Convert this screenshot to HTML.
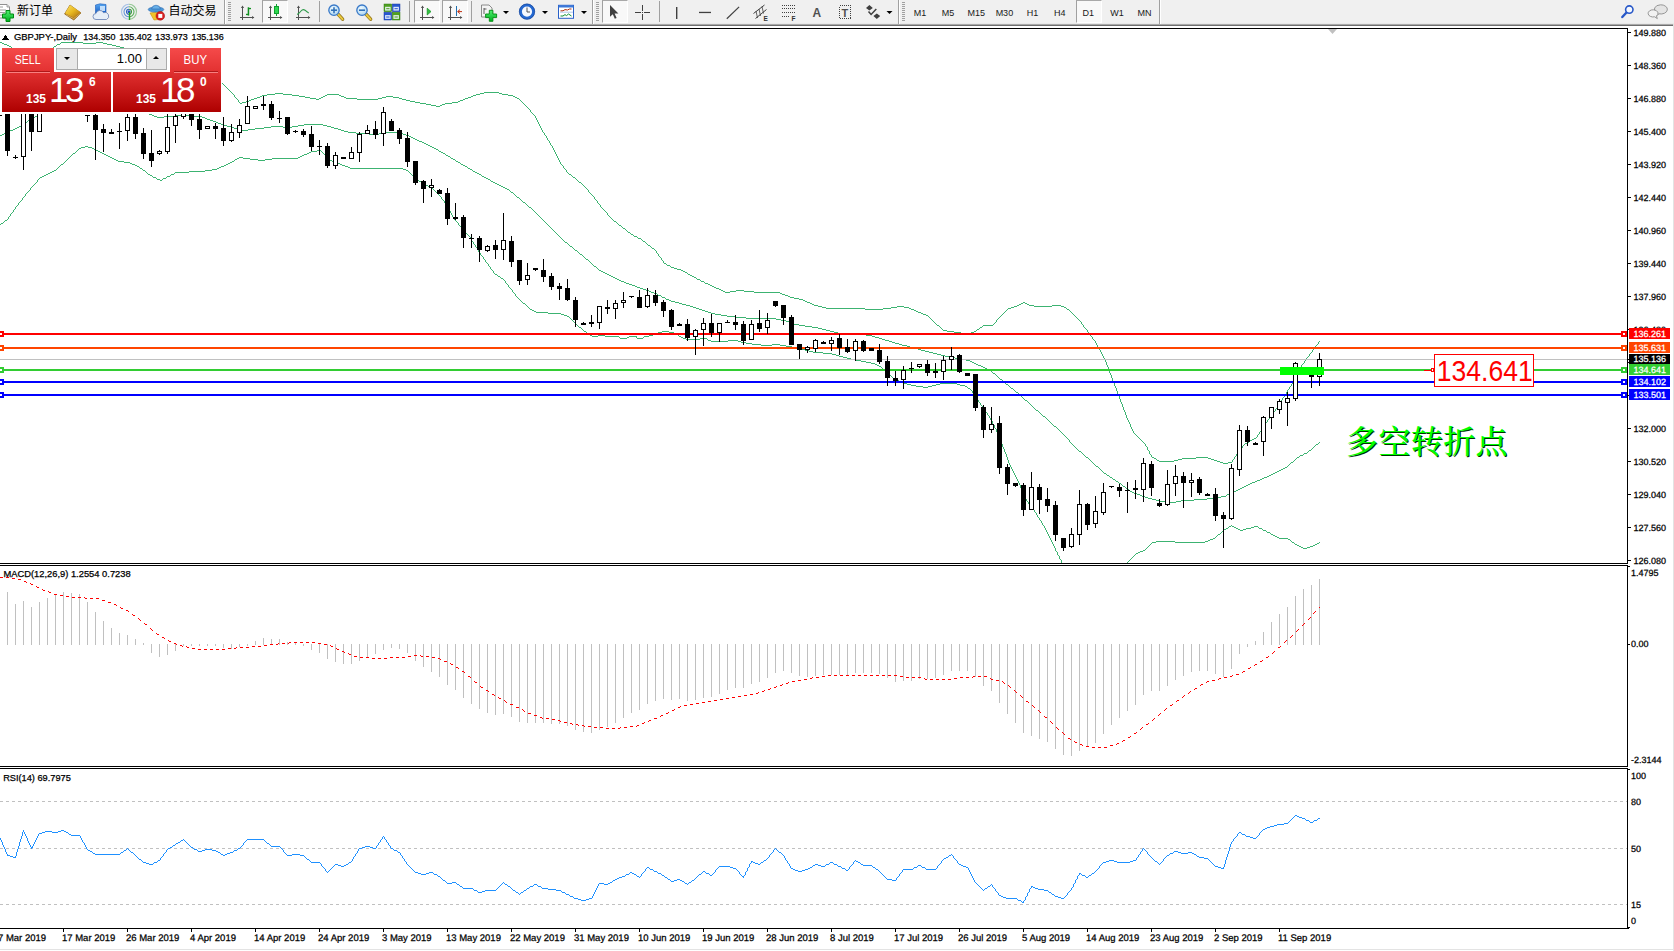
<!DOCTYPE html>
<html><head><meta charset="utf-8"><title>GBPJPY Daily</title>
<style>
html,body{margin:0;padding:0;background:#fff;}
body{width:1674px;height:951px;position:relative;overflow:hidden;font-family:"Liberation Sans","Noto Sans CJK SC",sans-serif;}
#chart{position:absolute;left:0;top:0;}
#chart text{font-family:"Liberation Sans",sans-serif;font-size:9px;fill:#000;stroke:#000;stroke-width:0.25px;}
#chart text.w{fill:#fff;stroke:#fff;}
.abs{position:absolute;white-space:nowrap;}
#tb{position:absolute;left:0;top:0;width:1674px;height:24px;background:#F0F0F0;}
#tbl0{position:absolute;left:0;top:23px;width:1674px;height:1px;background:#E9E9E9;}
#tbl1{position:absolute;left:0;top:24px;width:1674px;height:1px;background:#A9A9A9;}
#tbl2{position:absolute;left:0;top:25px;width:1674px;height:1px;background:#6E6E6E;}
#tbl3{position:absolute;left:0;top:26px;width:1674px;height:2px;background:#FFFFFF;}
.tbt{position:absolute;font-size:12px;line-height:14px;color:#000;top:4px;}
.tf{position:absolute;top:6.5px;font-size:9px;line-height:12px;color:#1a1a1a;text-align:center;width:28px;}
.sep{position:absolute;top:1px;width:1px;height:21px;background:#A0A0A0;}
.sep2{position:absolute;top:0;width:1px;height:24px;background:#A0A0A0;}
.grip{position:absolute;top:2px;width:3px;height:20px;background:repeating-linear-gradient(to bottom,#A0A0A0 0,#A0A0A0 1px,#F0F0F0 1px,#F0F0F0 2px);}
.pr{position:absolute;top:0;height:23px;background:#F8F8F8;border-top:1px solid #A8A8A8;border-left:1px solid #A0A0A0;border-right:1px solid #fff;border-bottom:1px solid #fff;box-sizing:border-box;}
#oc{position:absolute;left:2px;top:48px;width:219px;height:64px;}
.red{position:absolute;background:linear-gradient(to bottom,#F24646 0%,#D62020 45%,#B00000 100%);}
.ocbtn{position:absolute;color:#fff;font-size:12px;text-align:center;line-height:14px;}
#big{position:absolute;left:1435px;top:355px;width:98px;height:31px;color:#FF0000;font-size:30px;line-height:31px;text-align:center;white-space:nowrap;}
#big span{display:inline-block;transform-origin:50% 50%;transform:translateX(-4.5px) scaleX(0.885);}
#cn{position:absolute;left:1346px;top:417px;font-family:"Noto Serif CJK SC","Noto Sans CJK SC",serif;font-size:32px;line-height:44px;color:#00FF00;font-weight:500;text-shadow:1px 1px 0 #003000;white-space:nowrap;letter-spacing:0.4px;}
</style></head><body>
<div id="tb"></div><div id="tbl0"></div><div id="tbl1"></div><div id="tbl2"></div><div id="tbl3"></div>
<div class="pr" style="left:262px;width:26px;"></div><div class="pr" style="left:414px;width:26px;"></div><div class="pr" style="left:442px;width:26px;"></div><div class="pr" style="left:602px;width:26px;"></div><div class="pr" style="left:1076px;width:26px;"></div>
<div class="sep" style="left:319px"></div><div class="sep" style="left:409px"></div><div class="sep" style="left:471px"></div><div class="sep" style="left:659px"></div><div class="sep2" style="left:224px"></div><div class="sep2" style="left:225px;background:#fff"></div><div class="sep2" style="left:592px"></div><div class="sep2" style="left:593px;background:#fff"></div><div class="sep2" style="left:898px"></div><div class="sep2" style="left:899px;background:#fff"></div><div class="sep2" style="left:1159px"></div><div class="sep2" style="left:1160px;background:#fff"></div><div class="grip" style="left:228px"></div><div class="grip" style="left:596px"></div><div class="grip" style="left:902px"></div>
<div class="tbt" style="left:17px;">新订单</div><div class="tbt" style="left:168.6px;">自动交易</div>
<div class="tf" style="left:906px;">M1</div><div class="tf" style="left:934px;">M5</div><div class="tf" style="left:962.3px;">M15</div><div class="tf" style="left:990.4px;">M30</div><div class="tf" style="left:1018.5px;">H1</div><div class="tf" style="left:1045.8px;">H4</div><div class="tf" style="left:1074.2px;">D1</div><div class="tf" style="left:1103px;">W1</div><div class="tf" style="left:1130.4px;">MN</div>
<svg id="tbi" width="1674" height="24" viewBox="0 0 1674 24" style="position:absolute;left:0;top:0;">
<defs>
<linearGradient id="gold" x1="0" y1="0" x2="1" y2="1"><stop offset="0" stop-color="#FBE36A"/><stop offset="0.5" stop-color="#E8B820"/><stop offset="1" stop-color="#A86A10"/></linearGradient>
<linearGradient id="grn" x1="0" y1="0" x2="0" y2="1"><stop offset="0" stop-color="#50F070"/><stop offset="1" stop-color="#00B020"/></linearGradient>
<linearGradient id="blu" x1="0" y1="0" x2="0" y2="1"><stop offset="0" stop-color="#58A8F0"/><stop offset="1" stop-color="#1860C8"/></linearGradient>
<radialGradient id="lens" cx="0.4" cy="0.35" r="0.7"><stop offset="0" stop-color="#F0FAFF"/><stop offset="1" stop-color="#A8D4F0"/></radialGradient>
</defs>
<path d="M-3 4.5 H7 L9.5 7 V18 H-3 Z" fill="#fff" stroke="#909090" stroke-width="1"/><path d="M7 4.5 V7 H9.5" fill="#E0E0E0" stroke="#909090" stroke-width="0.8"/><path d="M-1 7 H3 M-1 10 H6 M-1 12.5 H5 M-1 15 H3" stroke="#A0A0A0" stroke-width="1"/><path d="M6 10.5 h4 v3.5 h3.5 v4 h-3.5 v3.5 h-4 v-3.5 h-3.5 v-4 h3.5 z" fill="url(#grn)" stroke="#008A10" stroke-width="1"/>
<path d="M70 5 L81 13 L73.8 20 L64.6 14 Z" fill="#B07818" stroke="#8A5A0C" stroke-width="0.7"/><path d="M70 5 L80.6 12.2 L73.6 17.6 L65 13.2 Z" fill="url(#gold)"/><path d="M66 14.6 L73.7 18.6 L80.4 13.4" fill="none" stroke="#F0D890" stroke-width="0.7" opacity="0.8"/>
<path d="M95.5 5 L100 3.8 L106 4.5 V13 H95.5 Z" fill="url(#blu)" stroke="#1858B8" stroke-width="0.6"/><rect x="100" y="6" width="5" height="5" fill="#D8ECFF" opacity="0.85"/><path d="M96 19.5 a3 3 0 0 1 0 -6 a4 4 0 0 1 7.5 -0.8 a3.4 3.4 0 0 1 3 6.8 z" fill="#E6EEF8" stroke="#7088B8" stroke-width="0.9"/>
<g fill="none" stroke-width="1.1"><path d="M129 4.3 a7.5 7.5 0 0 0 0 15" stroke="#7AA4E0" opacity="0.6"/><path d="M129 19.3 a7.5 7.5 0 0 0 0 -15" stroke="#70B870" opacity="0.7"/><path d="M129 6.8 a5 5 0 0 0 0 10" stroke="#4A84D4" opacity="0.85"/><path d="M129 16.8 a5 5 0 0 0 0 -10" stroke="#48A848" opacity="0.9"/><path d="M129 9.3 a2.5 2.5 0 0 0 0 5" stroke="#2A60C0"/><path d="M129 14.3 a2.5 2.5 0 0 0 0 -5" stroke="#3A9A3A"/></g><circle cx="129" cy="11.8" r="1.5" fill="#2050C0"/><path d="M129.5 12 V20" stroke="#20A020" stroke-width="1.4"/>
<path d="M150 13 L162 11 L159 19.5 L154 20 Z" fill="#F2C428" stroke="#C89010" stroke-width="0.6"/><ellipse cx="156" cy="9.5" rx="7.8" ry="2.6" fill="#4A98D8" stroke="#2A68B0" stroke-width="0.6"/><path d="M151.5 9 a4.6 4.8 0 0 1 9 0 z" fill="#68B0E8" stroke="#2A68B0" stroke-width="0.6"/><circle cx="160.3" cy="15.9" r="4.3" fill="#D82020" stroke="#A01010" stroke-width="0.5"/><rect x="158.3" y="13.9" width="4" height="4" fill="#fff"/>
<g stroke="#505050" stroke-width="1" fill="none" shape-rendering="crispEdges"><path d="M242.5 6.5 V20 M240 17.5 H253.5"/></g><path d="M242.5 5.6 l-1.6 2.4 h3.2 z M254.4 17.5 l-2.4 -1.6 v3.2 z" fill="#505050"/><rect x="247.7" y="7.3" width="1.5" height="8.3" fill="#109020"/><rect x="248" y="7.9" width="3" height="1.3" fill="#109020"/><rect x="246" y="13.8" width="2.4" height="1.3" fill="#109020"/>
<g stroke="#505050" stroke-width="1" fill="none" shape-rendering="crispEdges"><path d="M270.5 6.5 V20 M268 17.5 H281.5"/></g><path d="M270.5 5.6 l-1.6 2.4 h3.2 z M282.4 17.5 l-2.4 -1.6 v3.2 z" fill="#505050"/><path d="M276.5 4 V16" stroke="#10A030" stroke-width="1" shape-rendering="crispEdges"/><rect x="274.5" y="6.5" width="4" height="7" fill="#30D850" stroke="#10A030" stroke-width="1" shape-rendering="crispEdges"/>
<g stroke="#505050" stroke-width="1" fill="none" shape-rendering="crispEdges"><path d="M298.5 6.5 V20 M296 17.5 H309.5"/></g><path d="M298.5 5.6 l-1.6 2.4 h3.2 z M310.4 17.5 l-2.4 -1.6 v3.2 z" fill="#505050"/><path d="M297.2 14.5 Q299.5 13 301 11 Q303 8.6 305 10.2 Q307 12.2 308.8 12.9" stroke="#2E9A4A" stroke-width="1.1" fill="none"/>
<path d="M338 14.2 L342.6 19.2" stroke="#8A6A10" stroke-width="3.4" stroke-linecap="round"/><path d="M338 14.2 L342.6 19.2" stroke="#E8C840" stroke-width="2" stroke-linecap="round"/><circle cx="334" cy="10.2" r="5.2" fill="url(#lens)" stroke="#3878C8" stroke-width="1.3"/><path d="M331 10.2 H337" stroke="#3070B8" stroke-width="1.6"/><path d="M334 7.2 V13.2" stroke="#3070B8" stroke-width="1.6"/><path d="M366 14.2 L370.6 19.2" stroke="#8A6A10" stroke-width="3.4" stroke-linecap="round"/><path d="M366 14.2 L370.6 19.2" stroke="#E8C840" stroke-width="2" stroke-linecap="round"/><circle cx="362" cy="10.2" r="5.2" fill="url(#lens)" stroke="#3878C8" stroke-width="1.3"/><path d="M359 10.2 H365" stroke="#3070B8" stroke-width="1.6"/>
<rect x="384" y="4" width="7.7" height="7.7" fill="#50A020" stroke="#2C7A10" stroke-width="0.5"/><rect x="385.1" y="6.8" width="5.5" height="3.8" fill="#F0F6FF" opacity="0.9"/><rect x="386.2" y="8.2" width="3.3" height="1" fill="#50A020"/><rect x="392.3" y="4" width="7.7" height="7.7" fill="#2858D0" stroke="#1838A0" stroke-width="0.5"/><rect x="393.4" y="6.8" width="5.5" height="3.8" fill="#F0F6FF" opacity="0.9"/><rect x="394.5" y="8.2" width="3.3" height="1" fill="#2858D0"/><rect x="384" y="12.3" width="7.7" height="7.7" fill="#2858D0" stroke="#1838A0" stroke-width="0.5"/><rect x="385.1" y="15.1" width="5.5" height="3.8" fill="#F0F6FF" opacity="0.9"/><rect x="386.2" y="16.5" width="3.3" height="1" fill="#2858D0"/><rect x="392.3" y="12.3" width="7.7" height="7.7" fill="#50A020" stroke="#2C7A10" stroke-width="0.5"/><rect x="393.4" y="15.1" width="5.5" height="3.8" fill="#F0F6FF" opacity="0.9"/><rect x="394.5" y="16.5" width="3.3" height="1" fill="#50A020"/>
<g stroke="#505050" stroke-width="1" fill="none" shape-rendering="crispEdges"><path d="M422.5 6.5 V20 M420 17.5 H433.5"/></g><path d="M422.5 5.6 l-1.6 2.4 h3.2 z M434.4 17.5 l-2.4 -1.6 v3.2 z" fill="#505050"/><path d="M427.2 8.2 L431 11.6 L427.2 15 Z" fill="#30C040" stroke="#109020" stroke-width="0.7"/>
<g stroke="#505050" stroke-width="1" fill="none" shape-rendering="crispEdges"><path d="M450.5 6.5 V20 M448 17.5 H461.5"/></g><path d="M450.5 5.6 l-1.6 2.4 h3.2 z M462.4 17.5 l-2.4 -1.6 v3.2 z" fill="#505050"/><path d="M456.5 6 V15.5" stroke="#2070B0" stroke-width="1" shape-rendering="crispEdges"/><path d="M462 11.6 H458 M460 9.6 L457.6 11.6 L460 13.6" stroke="#C03010" stroke-width="1" fill="none"/>
<path d="M481.5 5 H489 L492 8 V17 H481.5 Z" fill="#F4F4F4" stroke="#808080" stroke-width="0.9"/><path d="M484 8 v6 M484 9 h2.5" stroke="#404040" stroke-width="0.8" fill="none"/><path d="M489.3 10.3 h3.6 v3.7 h3.7 v3.6 h-3.7 v3.7 h-3.6 v-3.7 h-3.7 v-3.6 h3.7 z" fill="url(#grn)" stroke="#008A10" stroke-width="0.9"/><path d="M503 11 h6 l-3 3 z" fill="#000"/>
<circle cx="527" cy="11.6" r="6.5" fill="#F4F8FF" stroke="#2468D0" stroke-width="2.8"/><circle cx="527" cy="11.6" r="7.7" fill="none" stroke="#103C90" stroke-width="0.6"/><path d="M527 7.5 V12 H530" stroke="#505050" stroke-width="1" fill="none"/><path d="M542 11 h6 l-3 3 z" fill="#000"/>
<rect x="558.5" y="5.3" width="15" height="13" fill="#fff" stroke="#2860C8" stroke-width="1"/><rect x="558.5" y="5.3" width="15" height="2.2" fill="#3C78D8"/><path d="M560 12.2 H573" stroke="#90B0E0" stroke-width="0.7"/><path d="M560.5 10.8 L563 10.8 L565 9.6 L567.5 10 L569.5 9 L571.5 9" stroke="#B03010" stroke-width="1" fill="none"/><path d="M560.5 16 L563 16 L565 14.6 L566.5 15.6 L568.5 14 L571.5 16" stroke="#109030" stroke-width="1" fill="none"/><path d="M581 11 h6 l-3 3 z" fill="#000"/>
<path d="M610 5 L610 16.8 L612.8 14.2 L614.8 18.8 L616.6 18 L614.6 13.6 L618.4 13.4 Z" fill="#404040"/>
<path d="M635 12.5 H641 M644 12.5 H650 M642.5 5 V11 M642.5 14 V20" stroke="#404040" stroke-width="1" shape-rendering="crispEdges"/><rect x="642" y="12" width="1" height="1" fill="#404040"/>
<rect x="676" y="7" width="1.4" height="12" fill="#404040"/><rect x="699" y="11.8" width="12" height="1.3" fill="#404040"/><path d="M726.8 18.8 L739.1 6.9" stroke="#404040" stroke-width="1.2"/>
<g stroke="#404040" stroke-width="1"><path d="M753.5 13.5 L764.5 5 M755.5 18.5 L766.5 9.5"/><path d="M756 11 l1.5 7 M759 9 l1.5 7 M762 6.5 l1.5 7" stroke-width="0.8"/></g><text x="763.6" y="20.6" font-family="Liberation Sans,sans-serif" font-size="6.5" font-weight="bold" fill="#303030">E</text>
<g stroke="#404040" stroke-width="1" stroke-dasharray="1,1" shape-rendering="crispEdges"><path d="M782 5.5 H795 M782 8.5 H795 M782 12.5 H795 M782 16.5 H790"/></g><text x="791.6" y="20.6" font-family="Liberation Sans,sans-serif" font-size="6.5" font-weight="bold" fill="#303030">F</text>
<text x="812.6" y="16.8" font-family="Liberation Sans,sans-serif" font-size="12" font-weight="bold" fill="#505050">A</text>
<rect x="839.5" y="5.5" width="11" height="13" fill="none" stroke="#404040" stroke-width="1" stroke-dasharray="1,1" shape-rendering="crispEdges"/><text x="841.4" y="16.6" font-family="Liberation Sans,sans-serif" font-size="11" font-weight="bold" fill="#505050">T</text>
<path d="M869.4 5 l3.4 3 l-3.4 2.6 l-3.4 -2.6 z M876.8 19 l-3.4 -3 l3.4 -2.4 l3.4 2.4 z" fill="#404040"/><path d="M868.5 11.5 l2.6 3 l5.2 -5.6" stroke="#404040" stroke-width="1.5" fill="none"/><path d="M886.5 11 h6 l-3 3 z" fill="#000"/>
<path d="M1622.3 17 L1626.5 12.5" stroke="#2858C8" stroke-width="2.4" stroke-linecap="round"/><circle cx="1629.3" cy="9.6" r="3.7" fill="#F4F8FF" stroke="#2858C8" stroke-width="1.6"/>
<path d="M1660.5 4.8 a6.5 4.6 0 1 1 -1.5 9 l-3 2.2 l0.8 -3 a6.5 4.6 0 0 1 3.7 -8.2 z" fill="#E4E4E4" stroke="#8C8C8C" stroke-width="0.9"/><path d="M1653.5 9.8 a5 3.6 0 1 0 1.2 7 l2.6 1.8 l-0.8 -2.6 a5 3.6 0 0 0 -3 -6.2 z" fill="#F2F2F2" stroke="#8C8C8C" stroke-width="0.9"/>
</svg>
<svg id="chart" width="1674" height="951" viewBox="0 0 1674 951" shape-rendering="crispEdges">
<defs><clipPath id="cm"><rect x="0" y="29" width="1627" height="534"/></clipPath></defs>
<rect x="0" y="28" width="1628" height="1" fill="#000"/>
<rect x="1627" y="28" width="1" height="901" fill="#000"/>
<rect x="0" y="563" width="1628" height="1" fill="#000"/>
<rect x="0" y="565" width="1628" height="1" fill="#000"/>
<rect x="0" y="766" width="1628" height="1" fill="#000"/>
<rect x="0" y="768" width="1628" height="1" fill="#000"/>
<rect x="0" y="928" width="1629" height="1" fill="#000"/>
<rect x="0" y="564" width="1628" height="1" fill="#fff"/>
<rect x="0" y="767" width="1628" height="1" fill="#fff"/>
<rect x="1628" y="32" width="3" height="1" fill="#000"/>
<rect x="1628" y="65" width="3" height="1" fill="#000"/>
<rect x="1628" y="98" width="3" height="1" fill="#000"/>
<rect x="1628" y="131" width="3" height="1" fill="#000"/>
<rect x="1628" y="164" width="3" height="1" fill="#000"/>
<rect x="1628" y="197" width="3" height="1" fill="#000"/>
<rect x="1628" y="230" width="3" height="1" fill="#000"/>
<rect x="1628" y="263" width="3" height="1" fill="#000"/>
<rect x="1628" y="296" width="3" height="1" fill="#000"/>
<rect x="1628" y="329" width="3" height="1" fill="#000"/>
<rect x="1628" y="362" width="3" height="1" fill="#000"/>
<rect x="1628" y="395" width="3" height="1" fill="#000"/>
<rect x="1628" y="428" width="3" height="1" fill="#000"/>
<rect x="1628" y="461" width="3" height="1" fill="#000"/>
<rect x="1628" y="494" width="3" height="1" fill="#000"/>
<rect x="1628" y="527" width="3" height="1" fill="#000"/>
<rect x="1628" y="560" width="3" height="1" fill="#000"/>
<rect x="1628" y="566" width="2" height="1" fill="#000"/>
<rect x="1628" y="644" width="2" height="1" fill="#000"/>
<rect x="1628" y="769" width="2" height="1" fill="#000"/>
<rect x="1628" y="927" width="2" height="1" fill="#000"/>
<rect x="-1" y="929" width="1" height="3" fill="#000"/>
<rect x="63" y="929" width="1" height="3" fill="#000"/>
<rect x="127" y="929" width="1" height="3" fill="#000"/>
<rect x="191" y="929" width="1" height="3" fill="#000"/>
<rect x="255" y="929" width="1" height="3" fill="#000"/>
<rect x="319" y="929" width="1" height="3" fill="#000"/>
<rect x="383" y="929" width="1" height="3" fill="#000"/>
<rect x="447" y="929" width="1" height="3" fill="#000"/>
<rect x="511" y="929" width="1" height="3" fill="#000"/>
<rect x="575" y="929" width="1" height="3" fill="#000"/>
<rect x="639" y="929" width="1" height="3" fill="#000"/>
<rect x="703" y="929" width="1" height="3" fill="#000"/>
<rect x="767" y="929" width="1" height="3" fill="#000"/>
<rect x="831" y="929" width="1" height="3" fill="#000"/>
<rect x="895" y="929" width="1" height="3" fill="#000"/>
<rect x="959" y="929" width="1" height="3" fill="#000"/>
<rect x="1023" y="929" width="1" height="3" fill="#000"/>
<rect x="1087" y="929" width="1" height="3" fill="#000"/>
<rect x="1151" y="929" width="1" height="3" fill="#000"/>
<rect x="1215" y="929" width="1" height="3" fill="#000"/>
<rect x="1279" y="929" width="1" height="3" fill="#000"/>
<path fill="#3CB371" d="M0 42h2v1h-2zM61 42h22v1h-22zM96 42h7v1h-7zM2 43h2v1h-2zM60 43h1v1h-1zM83 43h13v1h-13zM103 43h4v1h-4zM4 44h3v1h-3zM57 44h3v1h-3zM107 44h5v1h-5zM7 45h2v1h-2zM56 45h1v1h-1zM112 45h4v1h-4zM9 46h2v1h-2zM54 46h2v1h-2zM116 46h4v1h-4zM11 47h1v1h-1zM53 47h1v1h-1zM120 47h4v1h-4zM12 48h1v1h-1zM51 48h2v1h-2zM124 48h3v1h-3zM13 49h1v1h-1zM50 49h1v1h-1zM127 49h4v1h-4zM14 50h1v1h-1zM48 50h2v1h-2zM131 50h4v1h-4zM15 51h1v1h-1zM47 51h1v1h-1zM135 51h3v1h-3zM16 52h31v1h-31zM138 52h4v1h-4zM142 53h3v1h-3zM145 54h4v1h-4zM149 55h3v1h-3zM152 56h3v1h-3zM155 57h3v1h-3zM158 58h3v1h-3zM161 59h3v1h-3zM164 60h3v1h-3zM167 61h3v1h-3zM170 62h3v1h-3zM173 63h3v1h-3zM176 64h2v1h-2zM178 65h3v1h-3zM181 66h3v1h-3zM184 67h3v1h-3zM187 68h3v1h-3zM190 69h3v1h-3zM193 70h3v1h-3zM196 71h3v1h-3zM199 72h3v1h-3zM202 73h2v1h-2zM204 74h2v1h-2zM206 75h2v1h-2zM208 76h2v1h-2zM210 77h2v1h-2zM212 78h2v1h-2zM214 79h2v1h-2zM216 80h2v1h-2zM218 81h2v1h-2zM220 82h2v1h-2zM222 83h1v1h-1zM223 84h1v1h-1zM224 85h1v1h-1zM225 86h1v1h-1zM226 87h1v1h-1zM227 88h1v1h-1zM228 89h1v1h-1zM229 90h1v1h-1zM230 91h1v1h-1zM231 92h1v1h-1zM484 92h15v1h-15zM232 93h1v1h-1zM275 93h8v1h-8zM480 93h4v1h-4zM499 93h3v1h-3zM233 94h1v1h-1zM267 94h8v1h-8zM283 94h9v1h-9zM327 94h12v1h-12zM476 94h4v1h-4zM502 94h6v1h-6zM234 95h1v2h-1zM262 95h5v1h-5zM292 95h7v1h-7zM325 95h2v1h-2zM339 95h2v1h-2zM473 95h3v1h-3zM508 95h5v1h-5zM260 96h2v1h-2zM299 96h6v1h-6zM323 96h2v1h-2zM341 96h3v1h-3zM386 96h7v1h-7zM471 96h2v1h-2zM513 96h2v1h-2zM235 97h1v1h-1zM257 97h3v1h-3zM305 97h5v1h-5zM321 97h2v1h-2zM344 97h2v1h-2zM382 97h4v1h-4zM393 97h6v1h-6zM468 97h3v1h-3zM515 97h2v1h-2zM236 98h1v1h-1zM254 98h3v1h-3zM310 98h6v1h-6zM319 98h2v1h-2zM346 98h11v1h-11zM378 98h4v1h-4zM399 98h3v1h-3zM465 98h3v1h-3zM517 98h2v1h-2zM237 99h1v1h-1zM251 99h3v1h-3zM316 99h3v1h-3zM357 99h21v1h-21zM402 99h4v1h-4zM463 99h2v1h-2zM519 99h1v1h-1zM238 100h1v2h-1zM249 100h2v1h-2zM406 100h4v1h-4zM460 100h3v1h-3zM520 100h1v1h-1zM246 101h3v1h-3zM410 101h5v1h-5zM458 101h2v1h-2zM521 101h1v1h-1zM239 102h1v1h-1zM242 102h4v1h-4zM415 102h5v1h-5zM452 102h6v1h-6zM522 102h1v1h-1zM240 103h2v1h-2zM420 103h6v1h-6zM445 103h7v1h-7zM523 103h1v1h-1zM426 104h5v1h-5zM442 104h3v1h-3zM524 104h1v1h-1zM431 105h5v1h-5zM440 105h2v1h-2zM525 105h1v1h-1zM436 106h4v1h-4zM526 106h1v1h-1zM527 107h1v1h-1zM528 108h1v1h-1zM529 109h1v1h-1zM530 110h1v2h-1zM531 112h1v1h-1zM532 113h1v1h-1zM533 114h1v1h-1zM534 115h1v1h-1zM535 116h1v2h-1zM536 118h1v2h-1zM537 120h1v2h-1zM538 122h1v2h-1zM539 124h1v2h-1zM540 126h1v2h-1zM541 128h1v2h-1zM542 130h1v2h-1zM543 132h1v1h-1zM544 133h1v2h-1zM545 135h1v1h-1zM546 136h1v2h-1zM547 138h1v2h-1zM548 140h1v1h-1zM549 141h1v2h-1zM550 143h1v2h-1zM551 145h1v1h-1zM552 146h1v2h-1zM553 148h1v2h-1zM554 150h1v2h-1zM555 152h1v2h-1zM556 154h1v2h-1zM557 156h1v2h-1zM558 158h1v2h-1zM559 160h1v2h-1zM560 162h1v2h-1zM561 164h1v1h-1zM562 165h1v1h-1zM563 166h1v2h-1zM564 168h1v1h-1zM565 169h1v1h-1zM566 170h1v2h-1zM567 172h1v1h-1zM568 173h1v1h-1zM569 174h2v1h-2zM571 175h1v1h-1zM572 176h1v1h-1zM573 177h2v1h-2zM575 178h1v1h-1zM576 179h1v1h-1zM577 180h1v1h-1zM578 181h1v1h-1zM579 182h2v1h-2zM581 183h1v1h-1zM582 184h1v1h-1zM583 185h1v1h-1zM584 186h1v1h-1zM585 187h1v1h-1zM586 188h1v1h-1zM587 189h1v1h-1zM588 190h1v2h-1zM589 192h1v1h-1zM590 193h1v1h-1zM591 194h1v1h-1zM592 195h1v1h-1zM593 196h1v1h-1zM594 197h1v2h-1zM595 199h1v1h-1zM596 200h1v1h-1zM597 201h1v2h-1zM598 203h1v1h-1zM599 204h1v1h-1zM600 205h1v2h-1zM601 207h1v1h-1zM602 208h1v1h-1zM603 209h1v1h-1zM604 210h1v1h-1zM605 211h1v1h-1zM606 212h1v1h-1zM607 213h1v2h-1zM608 215h1v1h-1zM609 216h1v1h-1zM610 217h1v1h-1zM611 218h1v1h-1zM612 219h1v1h-1zM613 220h1v1h-1zM614 221h2v1h-2zM616 222h1v1h-1zM617 223h1v1h-1zM618 224h1v1h-1zM619 225h2v1h-2zM621 226h1v1h-1zM622 227h1v1h-1zM623 228h2v1h-2zM625 229h1v1h-1zM626 230h1v1h-1zM627 231h1v1h-1zM628 232h2v1h-2zM630 233h1v1h-1zM631 234h2v1h-2zM633 235h1v1h-1zM634 236h3v1h-3zM637 237h1v1h-1zM638 238h3v1h-3zM641 239h1v1h-1zM642 240h1v1h-1zM643 241h2v1h-2zM645 242h1v1h-1zM646 243h1v1h-1zM647 244h1v1h-1zM648 245h2v1h-2zM650 246h1v1h-1zM651 247h1v1h-1zM652 248h2v1h-2zM654 249h1v1h-1zM655 250h1v1h-1zM656 251h1v2h-1zM657 253h1v1h-1zM658 254h1v2h-1zM659 256h1v1h-1zM660 257h1v1h-1zM661 258h1v2h-1zM662 260h1v1h-1zM663 261h1v2h-1zM664 263h2v1h-2zM666 264h1v1h-1zM667 265h3v1h-3zM670 266h1v1h-1zM671 267h3v1h-3zM674 268h3v1h-3zM677 269h4v1h-4zM681 270h2v1h-2zM683 271h2v1h-2zM685 272h2v1h-2zM687 273h1v1h-1zM688 274h2v1h-2zM690 275h2v1h-2zM692 276h2v1h-2zM694 277h2v1h-2zM696 278h1v1h-1zM697 279h3v1h-3zM700 280h1v1h-1zM701 281h3v1h-3zM704 282h1v1h-1zM705 283h3v1h-3zM708 284h2v1h-2zM710 285h2v1h-2zM712 286h2v1h-2zM714 287h2v1h-2zM716 288h3v1h-3zM719 289h2v1h-2zM721 290h2v1h-2zM736 290h8v1h-8zM723 291h2v1h-2zM730 291h6v1h-6zM744 291h10v1h-10zM725 292h5v1h-5zM754 292h26v1h-26zM780 293h2v1h-2zM782 294h3v1h-3zM785 295h3v1h-3zM788 296h2v1h-2zM790 297h4v1h-4zM794 298h5v1h-5zM799 299h4v1h-4zM803 300h2v1h-2zM805 301h2v1h-2zM807 302h3v1h-3zM1023 302h2v1h-2zM810 303h2v1h-2zM1021 303h2v1h-2zM1025 303h2v1h-2zM812 304h2v1h-2zM1019 304h2v1h-2zM1027 304h2v1h-2zM814 305h4v1h-4zM1017 305h2v1h-2zM1029 305h5v1h-5zM1052 305h9v1h-9zM818 306h4v1h-4zM897 306h7v1h-7zM1014 306h3v1h-3zM1034 306h18v1h-18zM1061 306h3v1h-3zM822 307h4v1h-4zM891 307h6v1h-6zM904 307h5v1h-5zM1011 307h3v1h-3zM1064 307h2v1h-2zM826 308h39v1h-39zM883 308h8v1h-8zM909 308h2v1h-2zM1008 308h3v1h-3zM1066 308h1v1h-1zM865 309h18v1h-18zM911 309h3v1h-3zM1007 309h1v1h-1zM1067 309h2v1h-2zM914 310h2v1h-2zM1006 310h1v1h-1zM1069 310h1v1h-1zM916 311h2v1h-2zM1005 311h1v1h-1zM1070 311h1v1h-1zM918 312h3v1h-3zM1004 312h1v1h-1zM1071 312h1v1h-1zM921 313h2v1h-2zM1003 313h1v1h-1zM1072 313h1v1h-1zM923 314h3v1h-3zM1002 314h1v1h-1zM1073 314h1v1h-1zM926 315h2v1h-2zM1001 315h1v1h-1zM1074 315h1v1h-1zM928 316h1v1h-1zM1000 316h1v1h-1zM1075 316h1v1h-1zM929 317h1v1h-1zM999 317h1v1h-1zM1076 317h1v1h-1zM930 318h1v1h-1zM998 318h1v1h-1zM1077 318h1v1h-1zM931 319h1v1h-1zM997 319h1v1h-1zM1078 319h1v1h-1zM932 320h1v1h-1zM996 320h1v2h-1zM1079 320h1v1h-1zM933 321h1v1h-1zM1080 321h1v1h-1zM934 322h1v1h-1zM995 322h1v1h-1zM1081 322h1v2h-1zM935 323h1v1h-1zM994 323h1v1h-1zM936 324h1v1h-1zM993 324h1v1h-1zM1082 324h1v1h-1zM937 325h2v1h-2zM983 325h10v1h-10zM1083 325h1v2h-1zM939 326h1v1h-1zM982 326h1v1h-1zM940 327h1v1h-1zM980 327h2v1h-2zM1084 327h1v1h-1zM941 328h1v1h-1zM979 328h1v1h-1zM1085 328h1v1h-1zM942 329h1v1h-1zM977 329h2v1h-2zM1086 329h1v1h-1zM943 330h4v1h-4zM976 330h1v1h-1zM1087 330h1v2h-1zM947 331h7v1h-7zM974 331h2v1h-2zM954 332h7v1h-7zM971 332h3v1h-3zM1088 332h1v1h-1zM961 333h10v1h-10zM1089 333h1v1h-1zM1090 334h1v2h-1zM1091 336h1v1h-1zM1092 337h1v2h-1zM1093 339h1v1h-1zM1094 340h1v1h-1zM1095 341h1v2h-1zM1319 341h1v1h-1zM1318 342h1v2h-1zM1096 343h1v2h-1zM1317 344h1v1h-1zM1097 345h1v2h-1zM1316 345h1v1h-1zM1315 346h1v1h-1zM1098 347h1v1h-1zM1314 347h1v2h-1zM1099 348h1v2h-1zM1313 349h1v1h-1zM1100 350h1v2h-1zM1312 350h1v2h-1zM1101 352h1v2h-1zM1311 352h1v1h-1zM1310 353h1v1h-1zM1102 354h1v2h-1zM1309 354h1v2h-1zM1103 356h1v2h-1zM1308 356h1v1h-1zM1307 357h1v1h-1zM1104 358h1v2h-1zM1306 358h1v2h-1zM1105 360h1v2h-1zM1305 360h1v1h-1zM1304 361h1v2h-1zM1106 362h1v3h-1zM1303 363h1v1h-1zM1302 364h1v1h-1zM1107 365h1v2h-1zM1301 365h1v2h-1zM1108 367h1v3h-1zM1300 367h1v1h-1zM1299 368h1v2h-1zM1109 370h1v3h-1zM1298 370h1v2h-1zM1297 372h1v2h-1zM1110 373h1v2h-1zM1296 374h1v2h-1zM1111 375h1v3h-1zM1295 376h1v2h-1zM1112 378h1v3h-1zM1294 378h1v2h-1zM1293 380h1v2h-1zM1113 381h1v2h-1zM1292 382h1v2h-1zM1114 383h1v3h-1zM1291 384h1v2h-1zM1115 386h1v2h-1zM1290 386h1v1h-1zM1289 387h1v2h-1zM1116 388h1v3h-1zM1288 389h1v1h-1zM1287 390h1v2h-1zM1117 391h1v3h-1zM1286 392h1v2h-1zM1118 394h1v2h-1zM1285 394h1v1h-1zM1284 395h1v2h-1zM1119 396h1v3h-1zM1283 397h1v1h-1zM1282 398h1v2h-1zM1120 399h1v3h-1zM1281 400h1v1h-1zM1280 401h1v2h-1zM1121 402h1v2h-1zM1279 403h1v1h-1zM1122 404h1v3h-1zM1278 404h1v2h-1zM1277 406h1v2h-1zM1123 407h1v3h-1zM1276 408h1v1h-1zM1275 409h1v2h-1zM1124 410h1v2h-1zM1274 411h1v1h-1zM1125 412h1v3h-1zM1273 412h1v2h-1zM1272 414h1v1h-1zM1126 415h1v3h-1zM1271 415h1v1h-1zM1270 416h1v2h-1zM1127 418h1v2h-1zM1269 418h1v1h-1zM1268 419h1v1h-1zM1128 420h1v2h-1zM1267 420h1v2h-1zM1129 422h1v2h-1zM1266 422h1v1h-1zM1265 423h1v2h-1zM1130 424h1v3h-1zM1264 425h1v1h-1zM1263 426h1v2h-1zM1131 427h1v2h-1zM1262 428h1v1h-1zM1132 429h1v2h-1zM1261 429h1v2h-1zM1133 431h1v2h-1zM1260 431h1v1h-1zM1259 432h1v2h-1zM1134 433h1v1h-1zM1135 434h1v1h-1zM1258 434h1v1h-1zM1136 435h1v1h-1zM1257 435h1v2h-1zM1137 436h1v1h-1zM1138 437h1v1h-1zM1256 437h1v1h-1zM1139 438h1v1h-1zM1254 438h2v1h-2zM1140 439h1v1h-1zM1252 439h2v1h-2zM1141 440h1v1h-1zM1250 440h2v1h-2zM1142 441h1v1h-1zM1249 441h1v1h-1zM1143 442h1v1h-1zM1247 442h2v1h-2zM1144 443h1v1h-1zM1245 443h2v1h-2zM1145 444h1v2h-1zM1244 444h1v1h-1zM1243 445h1v1h-1zM1146 446h1v1h-1zM1242 446h1v2h-1zM1147 447h1v3h-1zM1241 448h1v1h-1zM1240 449h1v1h-1zM1148 450h1v1h-1zM1239 450h1v2h-1zM1149 451h1v3h-1zM1238 452h1v1h-1zM1237 453h1v1h-1zM1150 454h1v1h-1zM1236 454h1v2h-1zM1151 455h1v2h-1zM1235 456h1v1h-1zM1152 457h2v1h-2zM1196 457h12v1h-12zM1234 457h1v2h-1zM1154 458h2v1h-2zM1182 458h14v1h-14zM1208 458h3v1h-3zM1156 459h1v1h-1zM1178 459h4v1h-4zM1211 459h3v1h-3zM1233 459h1v1h-1zM1157 460h2v1h-2zM1174 460h4v1h-4zM1214 460h3v1h-3zM1232 460h1v2h-1zM1159 461h15v1h-15zM1217 461h3v1h-3zM1220 462h3v1h-3zM1228 462h4v1h-4zM1223 463h5v1h-5z"/>
<path fill="#3CB371" d="M97 100h6v1h-6zM88 101h9v1h-9zM103 101h5v1h-5zM81 102h7v1h-7zM108 102h5v1h-5zM72 103h9v1h-9zM113 103h5v1h-5zM65 104h7v1h-7zM118 104h5v1h-5zM59 105h6v1h-6zM123 105h5v1h-5zM57 106h2v1h-2zM128 106h4v1h-4zM55 107h2v1h-2zM132 107h2v1h-2zM52 108h3v1h-3zM134 108h3v1h-3zM50 109h2v1h-2zM137 109h2v1h-2zM48 110h2v1h-2zM139 110h3v1h-3zM46 111h2v1h-2zM142 111h2v1h-2zM43 112h3v1h-3zM144 112h3v1h-3zM41 113h2v1h-2zM147 113h2v1h-2zM39 114h2v1h-2zM149 114h3v1h-3zM37 115h2v1h-2zM152 115h2v1h-2zM175 115h16v1h-16zM35 116h2v1h-2zM154 116h3v1h-3zM164 116h11v1h-11zM191 116h11v1h-11zM33 117h2v1h-2zM157 117h7v1h-7zM202 117h3v1h-3zM32 118h1v1h-1zM205 118h2v1h-2zM30 119h2v1h-2zM207 119h3v1h-3zM28 120h2v1h-2zM210 120h3v1h-3zM27 121h1v1h-1zM213 121h3v1h-3zM25 122h2v1h-2zM216 122h2v1h-2zM24 123h1v1h-1zM218 123h3v1h-3zM23 124h1v1h-1zM221 124h3v1h-3zM304 124h19v1h-19zM21 125h2v1h-2zM224 125h3v1h-3zM298 125h6v1h-6zM323 125h4v1h-4zM19 126h2v1h-2zM227 126h4v1h-4zM271 126h12v1h-12zM292 126h6v1h-6zM327 126h4v1h-4zM17 127h2v1h-2zM231 127h3v1h-3zM264 127h7v1h-7zM283 127h9v1h-9zM331 127h3v1h-3zM15 128h2v1h-2zM234 128h4v1h-4zM255 128h9v1h-9zM334 128h4v1h-4zM13 129h2v1h-2zM238 129h4v1h-4zM248 129h7v1h-7zM338 129h3v1h-3zM10 130h3v1h-3zM242 130h6v1h-6zM341 130h3v1h-3zM8 131h2v1h-2zM344 131h4v1h-4zM6 132h2v1h-2zM348 132h8v1h-8zM384 132h16v1h-16zM4 133h2v1h-2zM356 133h13v1h-13zM379 133h5v1h-5zM400 133h3v1h-3zM2 134h2v1h-2zM369 134h10v1h-10zM403 134h3v1h-3zM0 135h2v1h-2zM406 135h3v1h-3zM409 136h2v1h-2zM411 137h2v1h-2zM413 138h2v1h-2zM415 139h2v1h-2zM417 140h2v1h-2zM419 141h3v1h-3zM422 142h2v1h-2zM424 143h2v1h-2zM426 144h2v1h-2zM428 145h2v1h-2zM430 146h2v1h-2zM432 147h2v1h-2zM434 148h2v1h-2zM436 149h2v1h-2zM438 150h1v1h-1zM439 151h2v1h-2zM441 152h2v1h-2zM443 153h2v1h-2zM445 154h1v1h-1zM446 155h2v1h-2zM448 156h2v1h-2zM450 157h1v1h-1zM451 158h2v1h-2zM453 159h2v1h-2zM455 160h1v1h-1zM456 161h2v1h-2zM458 162h2v1h-2zM460 163h1v1h-1zM461 164h2v1h-2zM463 165h2v1h-2zM465 166h2v1h-2zM467 167h1v1h-1zM468 168h2v1h-2zM470 169h2v1h-2zM472 170h1v1h-1zM473 171h2v1h-2zM475 172h2v1h-2zM477 173h2v1h-2zM479 174h2v1h-2zM481 175h1v1h-1zM482 176h2v1h-2zM484 177h2v1h-2zM486 178h2v1h-2zM488 179h2v1h-2zM490 180h1v1h-1zM491 181h2v1h-2zM493 182h2v1h-2zM495 183h2v1h-2zM497 184h2v1h-2zM499 185h2v1h-2zM501 186h2v1h-2zM503 187h2v1h-2zM505 188h2v1h-2zM507 189h2v1h-2zM509 190h1v1h-1zM510 191h1v1h-1zM511 192h2v1h-2zM513 193h1v1h-1zM514 194h1v1h-1zM515 195h1v1h-1zM516 196h1v1h-1zM517 197h2v1h-2zM519 198h1v1h-1zM520 199h1v1h-1zM521 200h1v1h-1zM522 201h1v1h-1zM523 202h2v1h-2zM525 203h1v1h-1zM526 204h1v1h-1zM527 205h1v1h-1zM528 206h1v1h-1zM529 207h2v1h-2zM531 208h1v1h-1zM532 209h1v1h-1zM533 210h1v1h-1zM534 211h1v1h-1zM535 212h1v1h-1zM536 213h1v1h-1zM537 214h1v1h-1zM538 215h1v1h-1zM539 216h1v1h-1zM540 217h1v1h-1zM541 218h1v1h-1zM542 219h1v1h-1zM543 220h1v1h-1zM544 221h1v1h-1zM545 222h1v1h-1zM546 223h1v1h-1zM547 224h1v1h-1zM548 225h1v1h-1zM549 226h1v1h-1zM550 227h1v1h-1zM551 228h1v1h-1zM552 229h1v1h-1zM553 230h1v1h-1zM554 231h1v1h-1zM555 232h1v1h-1zM556 233h1v1h-1zM557 234h1v1h-1zM558 235h1v1h-1zM559 236h1v1h-1zM560 237h1v1h-1zM561 238h1v1h-1zM562 239h1v1h-1zM563 240h1v1h-1zM564 241h1v1h-1zM565 242h2v1h-2zM567 243h1v1h-1zM568 244h1v1h-1zM569 245h1v1h-1zM570 246h2v1h-2zM572 247h1v1h-1zM573 248h1v1h-1zM574 249h1v1h-1zM575 250h2v1h-2zM577 251h1v1h-1zM578 252h1v1h-1zM579 253h1v1h-1zM580 254h2v1h-2zM582 255h1v1h-1zM583 256h1v1h-1zM584 257h1v1h-1zM585 258h1v1h-1zM586 259h2v1h-2zM588 260h1v1h-1zM589 261h1v1h-1zM590 262h1v1h-1zM591 263h1v1h-1zM592 264h1v1h-1zM593 265h1v1h-1zM594 266h2v1h-2zM596 267h1v1h-1zM597 268h1v1h-1zM598 269h1v1h-1zM599 270h2v1h-2zM601 271h2v1h-2zM603 272h2v1h-2zM605 273h2v1h-2zM607 274h2v1h-2zM609 275h2v1h-2zM611 276h2v1h-2zM613 277h2v1h-2zM615 278h2v1h-2zM617 279h2v1h-2zM619 280h2v1h-2zM621 281h3v1h-3zM624 282h2v1h-2zM626 283h3v1h-3zM629 284h3v1h-3zM632 285h3v1h-3zM635 286h2v1h-2zM637 287h3v1h-3zM640 288h3v1h-3zM643 289h3v1h-3zM646 290h3v1h-3zM649 291h2v1h-2zM651 292h3v1h-3zM654 293h3v1h-3zM657 294h1v1h-1zM658 295h3v1h-3zM661 296h1v1h-1zM662 297h3v1h-3zM665 298h1v1h-1zM666 299h3v1h-3zM669 300h2v1h-2zM671 301h4v1h-4zM675 302h4v1h-4zM679 303h3v1h-3zM682 304h4v1h-4zM686 305h4v1h-4zM690 306h3v1h-3zM693 307h3v1h-3zM696 308h3v1h-3zM699 309h3v1h-3zM702 310h3v1h-3zM705 311h3v1h-3zM708 312h3v1h-3zM711 313h4v1h-4zM715 314h6v1h-6zM721 315h6v1h-6zM727 316h8v1h-8zM735 317h11v1h-11zM746 318h30v1h-30zM776 319h5v1h-5zM781 320h5v1h-5zM786 321h3v1h-3zM789 322h2v1h-2zM791 323h3v1h-3zM794 324h5v1h-5zM799 325h6v1h-6zM805 326h7v1h-7zM812 327h6v1h-6zM818 328h4v1h-4zM822 329h4v1h-4zM826 330h4v1h-4zM830 331h4v1h-4zM834 332h4v1h-4zM838 333h18v1h-18zM856 334h10v1h-10zM866 335h6v1h-6zM872 336h3v1h-3zM875 337h4v1h-4zM879 338h3v1h-3zM882 339h3v1h-3zM885 340h4v1h-4zM889 341h3v1h-3zM892 342h3v1h-3zM895 343h4v1h-4zM899 344h3v1h-3zM902 345h5v1h-5zM907 346h3v1h-3zM910 347h4v1h-4zM914 348h4v1h-4zM918 349h3v1h-3zM921 350h4v1h-4zM925 351h4v1h-4zM929 352h4v1h-4zM933 353h4v1h-4zM937 354h4v1h-4zM941 355h4v1h-4zM945 356h5v1h-5zM950 357h5v1h-5zM955 358h6v1h-6zM961 359h5v1h-5zM966 360h4v1h-4zM970 361h2v1h-2zM972 362h2v1h-2zM974 363h2v1h-2zM976 364h2v1h-2zM978 365h3v1h-3zM981 366h2v1h-2zM983 367h2v1h-2zM985 368h2v1h-2zM987 369h2v1h-2zM989 370h2v1h-2zM991 371h1v1h-1zM992 372h1v1h-1zM993 373h2v1h-2zM995 374h1v1h-1zM996 375h1v1h-1zM997 376h1v1h-1zM998 377h1v1h-1zM999 378h1v1h-1zM1000 379h2v1h-2zM1002 380h1v1h-1zM1003 381h1v1h-1zM1004 382h1v1h-1zM1005 383h1v1h-1zM1006 384h2v1h-2zM1008 385h1v1h-1zM1009 386h1v1h-1zM1010 387h1v1h-1zM1011 388h2v1h-2zM1013 389h1v1h-1zM1014 390h1v1h-1zM1015 391h1v1h-1zM1016 392h2v1h-2zM1018 393h1v1h-1zM1019 394h1v1h-1zM1020 395h1v1h-1zM1021 396h1v1h-1zM1022 397h1v1h-1zM1023 398h1v1h-1zM1024 399h1v1h-1zM1025 400h2v1h-2zM1027 401h1v1h-1zM1028 402h1v1h-1zM1029 403h1v1h-1zM1030 404h1v1h-1zM1031 405h1v1h-1zM1032 406h1v1h-1zM1033 407h1v1h-1zM1034 408h1v1h-1zM1035 409h1v1h-1zM1036 410h2v1h-2zM1038 411h1v1h-1zM1039 412h1v1h-1zM1040 413h1v1h-1zM1041 414h1v1h-1zM1042 415h1v1h-1zM1043 416h2v1h-2zM1045 417h1v1h-1zM1046 418h1v1h-1zM1047 419h1v1h-1zM1048 420h1v1h-1zM1049 421h1v1h-1zM1050 422h1v1h-1zM1051 423h1v1h-1zM1052 424h1v1h-1zM1053 425h1v1h-1zM1054 426h2v1h-2zM1056 427h1v1h-1zM1057 428h1v1h-1zM1058 429h1v1h-1zM1059 430h1v1h-1zM1060 431h1v1h-1zM1061 432h1v1h-1zM1062 433h1v1h-1zM1063 434h1v1h-1zM1064 435h1v1h-1zM1065 436h1v1h-1zM1066 437h1v1h-1zM1067 438h1v1h-1zM1068 439h1v1h-1zM1069 440h1v2h-1zM1070 442h1v1h-1zM1319 442h1v1h-1zM1071 443h1v1h-1zM1318 443h1v1h-1zM1072 444h1v1h-1zM1316 444h2v1h-2zM1073 445h1v1h-1zM1315 445h1v1h-1zM1074 446h1v1h-1zM1314 446h1v1h-1zM1075 447h1v1h-1zM1313 447h1v1h-1zM1076 448h1v1h-1zM1312 448h1v1h-1zM1077 449h1v1h-1zM1311 449h1v1h-1zM1078 450h1v1h-1zM1309 450h2v1h-2zM1079 451h2v1h-2zM1308 451h1v1h-1zM1081 452h1v1h-1zM1307 452h1v1h-1zM1082 453h1v1h-1zM1304 453h3v1h-3zM1083 454h1v1h-1zM1303 454h1v1h-1zM1084 455h1v1h-1zM1300 455h3v1h-3zM1085 456h1v1h-1zM1299 456h1v1h-1zM1086 457h2v1h-2zM1297 457h2v1h-2zM1088 458h1v1h-1zM1296 458h1v1h-1zM1089 459h1v1h-1zM1295 459h1v1h-1zM1090 460h1v1h-1zM1294 460h1v1h-1zM1091 461h1v1h-1zM1293 461h1v1h-1zM1092 462h1v1h-1zM1291 462h2v1h-2zM1093 463h1v1h-1zM1290 463h1v1h-1zM1094 464h1v1h-1zM1289 464h1v1h-1zM1095 465h1v1h-1zM1288 465h1v1h-1zM1096 466h2v1h-2zM1287 466h1v1h-1zM1098 467h1v1h-1zM1285 467h2v1h-2zM1099 468h1v1h-1zM1283 468h2v1h-2zM1100 469h1v1h-1zM1281 469h2v1h-2zM1101 470h1v1h-1zM1279 470h2v1h-2zM1102 471h1v1h-1zM1277 471h2v1h-2zM1103 472h1v1h-1zM1275 472h2v1h-2zM1104 473h2v1h-2zM1273 473h2v1h-2zM1106 474h1v1h-1zM1271 474h2v1h-2zM1107 475h2v1h-2zM1269 475h2v1h-2zM1109 476h1v1h-1zM1267 476h2v1h-2zM1110 477h2v1h-2zM1264 477h3v1h-3zM1112 478h1v1h-1zM1262 478h2v1h-2zM1113 479h2v1h-2zM1260 479h2v1h-2zM1115 480h1v1h-1zM1257 480h3v1h-3zM1116 481h2v1h-2zM1255 481h2v1h-2zM1118 482h1v1h-1zM1252 482h3v1h-3zM1119 483h2v1h-2zM1250 483h2v1h-2zM1121 484h1v1h-1zM1248 484h2v1h-2zM1122 485h1v1h-1zM1246 485h2v1h-2zM1123 486h2v1h-2zM1244 486h2v1h-2zM1125 487h1v1h-1zM1242 487h2v1h-2zM1126 488h2v1h-2zM1240 488h2v1h-2zM1128 489h1v1h-1zM1238 489h2v1h-2zM1129 490h1v1h-1zM1236 490h2v1h-2zM1130 491h2v1h-2zM1234 491h2v1h-2zM1132 492h2v1h-2zM1231 492h3v1h-3zM1134 493h3v1h-3zM1230 493h1v1h-1zM1137 494h3v1h-3zM1227 494h3v1h-3zM1140 495h2v1h-2zM1226 495h1v1h-1zM1142 496h3v1h-3zM1221 496h5v1h-5zM1145 497h3v1h-3zM1214 497h7v1h-7zM1148 498h4v1h-4zM1207 498h7v1h-7zM1152 499h4v1h-4zM1194 499h13v1h-13zM1156 500h4v1h-4zM1181 500h13v1h-13zM1160 501h7v1h-7zM1176 501h5v1h-5zM1167 502h9v1h-9z"/>
<path fill="#3CB371" d="M85 146h3v1h-3zM81 147h4v1h-4zM88 147h4v1h-4zM79 148h2v1h-2zM92 148h2v1h-2zM78 149h1v1h-1zM94 149h2v1h-2zM77 150h1v1h-1zM96 150h2v1h-2zM317 150h4v1h-4zM76 151h1v1h-1zM98 151h2v1h-2zM311 151h6v1h-6zM321 151h1v1h-1zM75 152h1v1h-1zM100 152h2v1h-2zM309 152h2v1h-2zM322 152h1v1h-1zM73 153h2v1h-2zM102 153h2v1h-2zM307 153h2v1h-2zM323 153h1v1h-1zM72 154h1v1h-1zM104 154h2v1h-2zM304 154h3v1h-3zM324 154h1v1h-1zM71 155h1v1h-1zM106 155h2v1h-2zM302 155h2v1h-2zM325 155h1v1h-1zM70 156h1v1h-1zM108 156h2v1h-2zM300 156h2v1h-2zM326 156h1v1h-1zM69 157h1v1h-1zM110 157h2v1h-2zM239 157h4v1h-4zM298 157h2v1h-2zM327 157h1v1h-1zM68 158h1v1h-1zM112 158h2v1h-2zM237 158h2v1h-2zM243 158h7v1h-7zM272 158h26v1h-26zM328 158h1v1h-1zM67 159h1v1h-1zM114 159h2v1h-2zM235 159h2v1h-2zM250 159h8v1h-8zM265 159h7v1h-7zM329 159h1v1h-1zM66 160h1v1h-1zM116 160h2v1h-2zM234 160h1v1h-1zM258 160h7v1h-7zM330 160h2v1h-2zM65 161h1v1h-1zM118 161h6v1h-6zM232 161h2v1h-2zM332 161h2v1h-2zM64 162h1v1h-1zM124 162h6v1h-6zM230 162h2v1h-2zM334 162h3v1h-3zM63 163h1v1h-1zM130 163h2v1h-2zM228 163h2v1h-2zM337 163h3v1h-3zM61 164h2v1h-2zM132 164h3v1h-3zM226 164h2v1h-2zM340 164h2v1h-2zM60 165h1v1h-1zM135 165h2v1h-2zM224 165h2v1h-2zM342 165h3v1h-3zM59 166h1v1h-1zM137 166h2v1h-2zM221 166h3v1h-3zM345 166h3v1h-3zM58 167h1v1h-1zM139 167h1v1h-1zM219 167h2v1h-2zM348 167h2v1h-2zM57 168h1v1h-1zM140 168h2v1h-2zM217 168h2v1h-2zM350 168h53v1h-53zM56 169h1v1h-1zM142 169h1v1h-1zM212 169h5v1h-5zM403 169h3v1h-3zM54 170h2v1h-2zM143 170h2v1h-2zM205 170h7v1h-7zM406 170h2v1h-2zM52 171h2v1h-2zM145 171h1v1h-1zM189 171h16v1h-16zM408 171h1v1h-1zM50 172h2v1h-2zM146 172h1v1h-1zM175 172h14v1h-14zM409 172h1v1h-1zM48 173h2v1h-2zM147 173h1v1h-1zM174 173h1v1h-1zM410 173h1v1h-1zM46 174h2v1h-2zM148 174h2v1h-2zM171 174h3v1h-3zM411 174h1v1h-1zM44 175h2v1h-2zM150 175h2v1h-2zM170 175h1v1h-1zM412 175h2v1h-2zM42 176h2v1h-2zM152 176h1v1h-1zM167 176h3v1h-3zM414 176h1v1h-1zM40 177h2v1h-2zM153 177h3v1h-3zM166 177h1v1h-1zM415 177h1v1h-1zM39 178h1v1h-1zM156 178h1v1h-1zM163 178h3v1h-3zM416 178h1v1h-1zM38 179h1v1h-1zM157 179h3v1h-3zM162 179h1v1h-1zM417 179h1v1h-1zM37 180h1v2h-1zM160 180h2v1h-2zM418 180h1v1h-1zM419 181h2v1h-2zM36 182h1v1h-1zM421 182h2v1h-2zM35 183h1v1h-1zM423 183h1v1h-1zM34 184h1v1h-1zM424 184h2v1h-2zM33 185h1v1h-1zM426 185h2v1h-2zM32 186h1v1h-1zM428 186h1v1h-1zM31 187h1v1h-1zM429 187h2v1h-2zM30 188h1v2h-1zM431 188h2v1h-2zM433 189h1v1h-1zM29 190h1v1h-1zM434 190h1v1h-1zM28 191h1v1h-1zM435 191h1v1h-1zM27 192h1v1h-1zM436 192h1v1h-1zM26 193h1v1h-1zM437 193h1v1h-1zM25 194h1v2h-1zM438 194h1v1h-1zM439 195h1v1h-1zM24 196h1v1h-1zM440 196h1v1h-1zM23 197h1v1h-1zM441 197h1v2h-1zM22 198h1v2h-1zM442 199h1v1h-1zM21 200h1v1h-1zM443 200h1v1h-1zM20 201h1v1h-1zM444 201h1v2h-1zM19 202h1v1h-1zM18 203h1v2h-1zM445 203h1v1h-1zM446 204h1v2h-1zM17 205h1v1h-1zM16 206h1v1h-1zM447 206h1v1h-1zM15 207h1v2h-1zM448 207h1v2h-1zM14 209h1v1h-1zM449 209h1v2h-1zM13 210h1v2h-1zM450 211h1v2h-1zM12 212h1v1h-1zM11 213h1v1h-1zM451 213h1v2h-1zM10 214h1v2h-1zM452 215h1v2h-1zM9 216h1v1h-1zM8 217h1v2h-1zM453 217h1v2h-1zM7 219h1v1h-1zM454 219h1v1h-1zM5 220h2v1h-2zM455 220h1v1h-1zM4 221h1v1h-1zM456 221h1v1h-1zM3 222h1v1h-1zM457 222h1v1h-1zM1 223h2v1h-2zM458 223h1v2h-1zM0 224h1v1h-1zM459 225h1v1h-1zM460 226h1v1h-1zM461 227h1v1h-1zM462 228h1v1h-1zM463 229h1v1h-1zM464 230h1v1h-1zM465 231h1v2h-1zM466 233h1v1h-1zM467 234h1v1h-1zM468 235h1v1h-1zM469 236h1v1h-1zM470 237h1v2h-1zM471 239h1v2h-1zM472 241h1v1h-1zM473 242h1v2h-1zM474 244h1v1h-1zM475 245h1v2h-1zM476 247h1v1h-1zM477 248h1v2h-1zM478 250h1v2h-1zM479 252h1v1h-1zM480 253h1v2h-1zM481 255h1v1h-1zM482 256h1v1h-1zM483 257h1v2h-1zM484 259h1v1h-1zM485 260h1v2h-1zM486 262h1v1h-1zM487 263h1v1h-1zM488 264h1v2h-1zM489 266h1v1h-1zM490 267h1v2h-1zM491 269h1v1h-1zM492 270h1v1h-1zM493 271h1v2h-1zM494 273h1v1h-1zM495 274h2v1h-2zM497 275h1v1h-1zM498 276h2v1h-2zM500 277h1v1h-1zM501 278h2v1h-2zM503 279h1v1h-1zM504 280h1v1h-1zM505 281h1v2h-1zM506 283h1v1h-1zM507 284h1v1h-1zM508 285h1v2h-1zM509 287h1v1h-1zM510 288h1v1h-1zM511 289h1v1h-1zM512 290h1v2h-1zM513 292h1v1h-1zM514 293h1v1h-1zM515 294h1v2h-1zM516 296h1v1h-1zM517 297h1v1h-1zM518 298h1v1h-1zM519 299h1v1h-1zM520 300h1v1h-1zM521 301h1v1h-1zM522 302h1v1h-1zM523 303h2v1h-2zM525 304h1v1h-1zM526 305h1v1h-1zM527 306h1v1h-1zM528 307h1v1h-1zM529 308h1v1h-1zM530 309h2v1h-2zM532 310h2v1h-2zM534 311h2v1h-2zM536 312h12v1h-12zM548 313h13v1h-13zM561 314h3v1h-3zM564 315h3v1h-3zM567 316h2v1h-2zM569 317h1v1h-1zM570 318h1v1h-1zM571 319h1v1h-1zM572 320h1v1h-1zM573 321h1v1h-1zM574 322h1v1h-1zM575 323h1v1h-1zM576 324h1v1h-1zM577 325h1v1h-1zM578 326h1v1h-1zM579 327h2v1h-2zM581 328h1v1h-1zM582 329h1v1h-1zM583 330h1v1h-1zM584 331h2v1h-2zM662 331h7v1h-7zM586 332h1v1h-1zM658 332h4v1h-4zM669 332h5v1h-5zM587 333h2v1h-2zM655 333h3v1h-3zM674 333h2v1h-2zM589 334h1v1h-1zM653 334h2v1h-2zM676 334h2v1h-2zM590 335h2v1h-2zM598 335h7v1h-7zM649 335h4v1h-4zM678 335h1v1h-1zM592 336h6v1h-6zM605 336h14v1h-14zM629 336h8v1h-8zM644 336h5v1h-5zM679 336h2v1h-2zM619 337h1v1h-1zM627 337h2v1h-2zM636 337h1v1h-1zM643 337h1v1h-1zM681 337h2v1h-2zM620 338h7v1h-7zM637 338h6v1h-6zM683 338h3v1h-3zM700 338h7v1h-7zM686 339h14v1h-14zM707 339h1v1h-1zM708 340h3v1h-3zM728 340h10v1h-10zM711 341h17v1h-17zM738 341h3v1h-3zM741 342h5v1h-5zM746 343h6v1h-6zM752 344h9v1h-9zM772 344h8v1h-8zM761 345h11v1h-11zM780 345h6v1h-6zM786 346h6v1h-6zM792 347h5v1h-5zM797 348h4v1h-4zM801 349h4v1h-4zM805 350h4v1h-4zM809 351h4v1h-4zM813 352h10v1h-10zM823 353h9v1h-9zM832 354h4v1h-4zM836 355h3v1h-3zM839 356h4v1h-4zM843 357h4v1h-4zM847 358h4v1h-4zM851 359h5v1h-5zM856 360h5v1h-5zM861 361h5v1h-5zM866 362h5v1h-5zM871 363h4v1h-4zM875 364h2v1h-2zM877 365h2v1h-2zM879 366h2v1h-2zM881 367h1v1h-1zM882 368h1v1h-1zM883 369h2v1h-2zM885 370h1v1h-1zM886 371h1v1h-1zM887 372h1v1h-1zM888 373h1v1h-1zM889 374h1v1h-1zM890 375h1v1h-1zM891 376h1v1h-1zM892 377h1v1h-1zM893 378h2v1h-2zM895 379h1v1h-1zM896 380h3v1h-3zM899 381h1v1h-1zM900 382h3v1h-3zM903 383h4v1h-4zM940 383h17v1h-17zM907 384h4v1h-4zM936 384h4v1h-4zM957 384h3v1h-3zM911 385h5v1h-5zM932 385h4v1h-4zM960 385h5v1h-5zM916 386h7v1h-7zM928 386h4v1h-4zM965 386h2v1h-2zM923 387h5v1h-5zM967 387h1v1h-1zM968 388h2v1h-2zM970 389h1v1h-1zM971 390h1v1h-1zM972 391h1v2h-1zM973 393h1v1h-1zM974 394h1v2h-1zM975 396h1v1h-1zM976 397h1v2h-1zM977 399h1v1h-1zM978 400h1v2h-1zM979 402h1v1h-1zM980 403h1v2h-1zM981 405h1v1h-1zM982 406h1v2h-1zM983 408h1v1h-1zM984 409h1v1h-1zM985 410h1v2h-1zM986 412h1v1h-1zM987 413h1v2h-1zM988 415h1v1h-1zM989 416h1v2h-1zM990 418h1v2h-1zM991 420h1v1h-1zM992 421h1v3h-1zM993 424h1v1h-1zM994 425h1v3h-1zM995 428h1v1h-1zM996 429h1v3h-1zM997 432h1v2h-1zM998 434h1v2h-1zM999 436h1v3h-1zM1000 439h1v2h-1zM1001 441h1v3h-1zM1002 444h1v3h-1zM1003 447h1v2h-1zM1004 449h1v3h-1zM1005 452h1v2h-1zM1006 454h1v3h-1zM1007 457h1v3h-1zM1008 460h1v3h-1zM1009 463h1v2h-1zM1010 465h1v2h-1zM1011 467h1v2h-1zM1012 469h1v2h-1zM1013 471h1v2h-1zM1014 473h1v2h-1zM1015 475h1v2h-1zM1016 477h1v2h-1zM1017 479h1v2h-1zM1018 481h1v2h-1zM1019 483h1v2h-1zM1020 485h1v3h-1zM1021 488h1v2h-1zM1022 490h1v2h-1zM1023 492h1v3h-1zM1024 495h1v2h-1zM1025 497h1v2h-1zM1026 499h1v2h-1zM1027 501h1v1h-1zM1028 502h1v2h-1zM1029 504h1v1h-1zM1030 505h1v2h-1zM1031 507h1v1h-1zM1032 508h1v1h-1zM1033 509h1v1h-1zM1034 510h1v2h-1zM1035 512h1v1h-1zM1036 513h1v2h-1zM1037 515h1v2h-1zM1038 517h1v1h-1zM1039 518h1v2h-1zM1040 520h1v1h-1zM1041 521h1v2h-1zM1042 523h1v2h-1zM1043 525h1v1h-1zM1231 525h1v1h-1zM1044 526h1v2h-1zM1229 526h2v1h-2zM1232 526h2v1h-2zM1254 526h4v1h-4zM1228 527h1v1h-1zM1234 527h2v1h-2zM1251 527h3v1h-3zM1258 527h1v1h-1zM1045 528h1v2h-1zM1226 528h2v1h-2zM1236 528h2v1h-2zM1246 528h5v1h-5zM1259 528h3v1h-3zM1224 529h2v1h-2zM1238 529h2v1h-2zM1243 529h3v1h-3zM1262 529h1v1h-1zM1046 530h1v2h-1zM1223 530h1v1h-1zM1240 530h3v1h-3zM1263 530h3v1h-3zM1222 531h1v1h-1zM1266 531h1v1h-1zM1047 532h1v2h-1zM1221 532h1v1h-1zM1267 532h3v1h-3zM1220 533h1v1h-1zM1270 533h1v1h-1zM1048 534h1v2h-1zM1218 534h2v1h-2zM1271 534h2v1h-2zM1217 535h1v1h-1zM1273 535h2v1h-2zM1049 536h1v2h-1zM1216 536h1v1h-1zM1275 536h2v1h-2zM1215 537h1v1h-1zM1277 537h2v1h-2zM1050 538h1v2h-1zM1213 538h2v1h-2zM1279 538h9v1h-9zM1210 539h3v1h-3zM1288 539h2v1h-2zM1051 540h1v2h-1zM1208 540h2v1h-2zM1290 540h1v1h-1zM1156 541h19v1h-19zM1205 541h3v1h-3zM1291 541h1v1h-1zM1052 542h1v2h-1zM1152 542h4v1h-4zM1175 542h30v1h-30zM1292 542h2v1h-2zM1319 542h1v1h-1zM1151 543h1v1h-1zM1294 543h1v1h-1zM1317 543h2v1h-2zM1053 544h1v2h-1zM1150 544h1v1h-1zM1295 544h2v1h-2zM1315 544h2v1h-2zM1149 545h1v1h-1zM1297 545h2v1h-2zM1313 545h2v1h-2zM1054 546h1v2h-1zM1148 546h1v1h-1zM1299 546h2v1h-2zM1310 546h3v1h-3zM1147 547h1v1h-1zM1301 547h2v1h-2zM1307 547h3v1h-3zM1055 548h1v3h-1zM1146 548h1v1h-1zM1303 548h4v1h-4zM1145 549h1v1h-1zM1143 550h2v1h-2zM1056 551h1v1h-1zM1140 551h3v1h-3zM1057 552h1v3h-1zM1138 552h2v1h-2zM1136 553h2v1h-2zM1135 554h1v1h-1zM1058 555h1v1h-1zM1134 555h1v1h-1zM1059 556h1v3h-1zM1133 556h1v1h-1zM1132 557h1v1h-1zM1131 558h1v1h-1zM1060 559h1v1h-1zM1130 559h1v1h-1zM1061 560h1v3h-1zM1129 560h1v1h-1zM1128 561h1v1h-1zM1127 562h1v1h-1z"/>
<rect x="0" y="359" width="1627" height="1" fill="#C0C0C0"/>
<rect x="0" y="333" width="1627" height="2" fill="#FF0000"/>
<rect x="-2" y="331" width="6" height="6" fill="#FF0000"/>
<rect x="0" y="333" width="2" height="2" fill="#fff"/>
<rect x="1621" y="331" width="6" height="6" fill="#FF0000"/>
<rect x="1623" y="333" width="2" height="2" fill="#fff"/>
<rect x="0" y="347" width="1627" height="2" fill="#FF4500"/>
<rect x="-2" y="345" width="6" height="6" fill="#FF4500"/>
<rect x="0" y="347" width="2" height="2" fill="#fff"/>
<rect x="1621" y="345" width="6" height="6" fill="#FF4500"/>
<rect x="1623" y="347" width="2" height="2" fill="#fff"/>
<rect x="0" y="369" width="1627" height="2" fill="#32CD32"/>
<rect x="-2" y="367" width="6" height="6" fill="#32CD32"/>
<rect x="0" y="369" width="2" height="2" fill="#fff"/>
<rect x="1621" y="367" width="6" height="6" fill="#32CD32"/>
<rect x="1623" y="369" width="2" height="2" fill="#fff"/>
<rect x="0" y="381" width="1627" height="2" fill="#0000FF"/>
<rect x="-2" y="379" width="6" height="6" fill="#0000FF"/>
<rect x="0" y="381" width="2" height="2" fill="#fff"/>
<rect x="1621" y="379" width="6" height="6" fill="#0000FF"/>
<rect x="1623" y="381" width="2" height="2" fill="#fff"/>
<rect x="0" y="394" width="1627" height="2" fill="#0000FF"/>
<rect x="-2" y="392" width="6" height="6" fill="#0000FF"/>
<rect x="0" y="394" width="2" height="2" fill="#fff"/>
<rect x="1621" y="392" width="6" height="6" fill="#0000FF"/>
<rect x="1623" y="394" width="2" height="2" fill="#fff"/>
<line x1="0" y1="801.5" x2="1627" y2="801.5" stroke="#C0C0C0" stroke-width="1" stroke-dasharray="3,3"/>
<line x1="0" y1="848.5" x2="1627" y2="848.5" stroke="#C0C0C0" stroke-width="1" stroke-dasharray="3,3"/>
<line x1="0" y1="904.5" x2="1627" y2="904.5" stroke="#C0C0C0" stroke-width="1" stroke-dasharray="3,3"/>
<g clip-path="url(#cm)">
<rect x="0" y="115" width="2" height="1" fill="#000"/>
<rect x="7" y="95" width="1" height="61" fill="#000"/>
<rect x="5" y="100" width="5" height="51" fill="#000"/>
<rect x="15" y="155" width="1" height="4" fill="#000"/>
<rect x="13" y="157" width="5" height="1" fill="#000"/>
<rect x="23" y="95" width="1" height="75" fill="#000"/>
<rect x="21" y="100" width="5" height="57" fill="#000"/>
<rect x="22" y="101" width="3" height="55" fill="#fff"/>
<rect x="31" y="95" width="1" height="56" fill="#000"/>
<rect x="29" y="100" width="5" height="32" fill="#000"/>
<rect x="39" y="95" width="1" height="37" fill="#000"/>
<rect x="37" y="100" width="5" height="32" fill="#000"/>
<rect x="38" y="101" width="3" height="30" fill="#fff"/>
<rect x="47" y="92" width="1" height="16" fill="#000"/>
<rect x="45" y="96" width="5" height="10" fill="#000"/>
<rect x="46" y="97" width="3" height="8" fill="#fff"/>
<rect x="55" y="90" width="1" height="18" fill="#000"/>
<rect x="53" y="94" width="5" height="10" fill="#000"/>
<rect x="63" y="88" width="1" height="18" fill="#000"/>
<rect x="61" y="92" width="5" height="8" fill="#000"/>
<rect x="62" y="93" width="3" height="6" fill="#fff"/>
<rect x="71" y="86" width="1" height="22" fill="#000"/>
<rect x="69" y="90" width="5" height="14" fill="#000"/>
<rect x="79" y="92" width="1" height="18" fill="#000"/>
<rect x="77" y="100" width="5" height="8" fill="#000"/>
<rect x="87" y="115" width="1" height="7" fill="#000"/>
<rect x="85" y="115" width="5" height="1" fill="#000"/>
<rect x="95" y="110" width="1" height="50" fill="#000"/>
<rect x="93" y="115" width="5" height="15" fill="#000"/>
<rect x="103" y="124" width="1" height="28" fill="#000"/>
<rect x="101" y="129" width="5" height="4" fill="#000"/>
<rect x="111" y="129" width="1" height="5" fill="#000"/>
<rect x="109" y="132" width="5" height="2" fill="#000"/>
<rect x="119" y="123" width="1" height="26" fill="#000"/>
<rect x="117" y="131" width="5" height="1" fill="#000"/>
<rect x="127" y="114" width="1" height="27" fill="#000"/>
<rect x="125" y="117" width="5" height="14" fill="#000"/>
<rect x="126" y="118" width="3" height="12" fill="#fff"/>
<rect x="135" y="114" width="1" height="25" fill="#000"/>
<rect x="133" y="117" width="5" height="17" fill="#000"/>
<rect x="143" y="128" width="1" height="31" fill="#000"/>
<rect x="141" y="133" width="5" height="21" fill="#000"/>
<rect x="151" y="130" width="1" height="37" fill="#000"/>
<rect x="149" y="153" width="5" height="8" fill="#000"/>
<rect x="159" y="150" width="1" height="5" fill="#000"/>
<rect x="157" y="151" width="5" height="3" fill="#000"/>
<rect x="158" y="152" width="3" height="1" fill="#fff"/>
<rect x="167" y="110" width="1" height="44" fill="#000"/>
<rect x="165" y="127" width="5" height="25" fill="#000"/>
<rect x="166" y="128" width="3" height="23" fill="#fff"/>
<rect x="175" y="110" width="1" height="33" fill="#000"/>
<rect x="173" y="116" width="5" height="10" fill="#000"/>
<rect x="174" y="117" width="3" height="8" fill="#fff"/>
<rect x="183" y="108" width="1" height="11" fill="#000"/>
<rect x="181" y="110" width="5" height="7" fill="#000"/>
<rect x="182" y="111" width="3" height="5" fill="#fff"/>
<rect x="191" y="104" width="1" height="22" fill="#000"/>
<rect x="189" y="105" width="5" height="15" fill="#000"/>
<rect x="199" y="114" width="1" height="25" fill="#000"/>
<rect x="197" y="119" width="5" height="11" fill="#000"/>
<rect x="207" y="126" width="1" height="3" fill="#000"/>
<rect x="205" y="126" width="5" height="3" fill="#000"/>
<rect x="206" y="127" width="3" height="1" fill="#fff"/>
<rect x="215" y="123" width="1" height="16" fill="#000"/>
<rect x="213" y="126" width="5" height="3" fill="#000"/>
<rect x="223" y="117" width="1" height="29" fill="#000"/>
<rect x="221" y="128" width="5" height="13" fill="#000"/>
<rect x="231" y="124" width="1" height="18" fill="#000"/>
<rect x="229" y="132" width="5" height="9" fill="#000"/>
<rect x="230" y="133" width="3" height="7" fill="#fff"/>
<rect x="239" y="119" width="1" height="19" fill="#000"/>
<rect x="237" y="125" width="5" height="8" fill="#000"/>
<rect x="238" y="126" width="3" height="6" fill="#fff"/>
<rect x="247" y="96" width="1" height="28" fill="#000"/>
<rect x="245" y="106" width="5" height="18" fill="#000"/>
<rect x="246" y="107" width="3" height="16" fill="#fff"/>
<rect x="255" y="106" width="1" height="3" fill="#000"/>
<rect x="253" y="106" width="5" height="3" fill="#000"/>
<rect x="254" y="107" width="3" height="1" fill="#fff"/>
<rect x="263" y="96" width="1" height="14" fill="#000"/>
<rect x="261" y="104" width="5" height="2" fill="#000"/>
<rect x="271" y="101" width="1" height="19" fill="#000"/>
<rect x="269" y="104" width="5" height="14" fill="#000"/>
<rect x="279" y="111" width="1" height="12" fill="#000"/>
<rect x="277" y="118" width="5" height="1" fill="#000"/>
<rect x="287" y="117" width="1" height="18" fill="#000"/>
<rect x="285" y="117" width="5" height="17" fill="#000"/>
<rect x="295" y="130" width="1" height="3" fill="#000"/>
<rect x="293" y="131" width="5" height="1" fill="#000"/>
<rect x="303" y="129" width="1" height="8" fill="#000"/>
<rect x="301" y="131" width="5" height="4" fill="#000"/>
<rect x="311" y="126" width="1" height="25" fill="#000"/>
<rect x="309" y="134" width="5" height="13" fill="#000"/>
<rect x="319" y="140" width="1" height="15" fill="#000"/>
<rect x="317" y="146" width="5" height="1" fill="#000"/>
<rect x="327" y="143" width="1" height="25" fill="#000"/>
<rect x="325" y="146" width="5" height="20" fill="#000"/>
<rect x="335" y="152" width="1" height="17" fill="#000"/>
<rect x="333" y="155" width="5" height="11" fill="#000"/>
<rect x="334" y="156" width="3" height="9" fill="#fff"/>
<rect x="343" y="157" width="1" height="2" fill="#000"/>
<rect x="341" y="157" width="5" height="2" fill="#000"/>
<rect x="351" y="147" width="1" height="12" fill="#000"/>
<rect x="349" y="152" width="5" height="7" fill="#000"/>
<rect x="350" y="153" width="3" height="5" fill="#fff"/>
<rect x="359" y="132" width="1" height="30" fill="#000"/>
<rect x="357" y="134" width="5" height="19" fill="#000"/>
<rect x="358" y="135" width="3" height="17" fill="#fff"/>
<rect x="367" y="125" width="1" height="9" fill="#000"/>
<rect x="365" y="130" width="5" height="4" fill="#000"/>
<rect x="366" y="131" width="3" height="2" fill="#fff"/>
<rect x="375" y="121" width="1" height="18" fill="#000"/>
<rect x="373" y="129" width="5" height="6" fill="#000"/>
<rect x="383" y="107" width="1" height="39" fill="#000"/>
<rect x="381" y="112" width="5" height="22" fill="#000"/>
<rect x="382" y="113" width="3" height="20" fill="#fff"/>
<rect x="391" y="119" width="1" height="12" fill="#000"/>
<rect x="389" y="121" width="5" height="10" fill="#000"/>
<rect x="399" y="128" width="1" height="16" fill="#000"/>
<rect x="397" y="130" width="5" height="9" fill="#000"/>
<rect x="407" y="132" width="1" height="35" fill="#000"/>
<rect x="405" y="138" width="5" height="24" fill="#000"/>
<rect x="415" y="161" width="1" height="24" fill="#000"/>
<rect x="413" y="161" width="5" height="22" fill="#000"/>
<rect x="423" y="180" width="1" height="23" fill="#000"/>
<rect x="421" y="181" width="5" height="8" fill="#000"/>
<rect x="431" y="179" width="1" height="18" fill="#000"/>
<rect x="429" y="185" width="5" height="3" fill="#000"/>
<rect x="430" y="186" width="3" height="1" fill="#fff"/>
<rect x="439" y="189" width="1" height="5" fill="#000"/>
<rect x="437" y="190" width="5" height="4" fill="#000"/>
<rect x="447" y="188" width="1" height="37" fill="#000"/>
<rect x="445" y="193" width="5" height="26" fill="#000"/>
<rect x="455" y="203" width="1" height="17" fill="#000"/>
<rect x="453" y="217" width="5" height="2" fill="#000"/>
<rect x="463" y="215" width="1" height="33" fill="#000"/>
<rect x="461" y="217" width="5" height="21" fill="#000"/>
<rect x="471" y="234" width="1" height="14" fill="#000"/>
<rect x="469" y="238" width="5" height="1" fill="#000"/>
<rect x="479" y="236" width="1" height="26" fill="#000"/>
<rect x="477" y="238" width="5" height="12" fill="#000"/>
<rect x="487" y="245" width="1" height="7" fill="#000"/>
<rect x="485" y="246" width="5" height="5" fill="#000"/>
<rect x="486" y="247" width="3" height="3" fill="#fff"/>
<rect x="495" y="240" width="1" height="19" fill="#000"/>
<rect x="493" y="245" width="5" height="5" fill="#000"/>
<rect x="503" y="213" width="1" height="47" fill="#000"/>
<rect x="501" y="240" width="5" height="10" fill="#000"/>
<rect x="502" y="241" width="3" height="8" fill="#fff"/>
<rect x="511" y="236" width="1" height="31" fill="#000"/>
<rect x="509" y="241" width="5" height="21" fill="#000"/>
<rect x="519" y="260" width="1" height="25" fill="#000"/>
<rect x="517" y="260" width="5" height="21" fill="#000"/>
<rect x="527" y="263" width="1" height="22" fill="#000"/>
<rect x="525" y="275" width="5" height="5" fill="#000"/>
<rect x="526" y="276" width="3" height="3" fill="#fff"/>
<rect x="535" y="268" width="1" height="3" fill="#000"/>
<rect x="533" y="268" width="5" height="2" fill="#000"/>
<rect x="543" y="259" width="1" height="23" fill="#000"/>
<rect x="541" y="270" width="5" height="7" fill="#000"/>
<rect x="551" y="273" width="1" height="17" fill="#000"/>
<rect x="549" y="276" width="5" height="11" fill="#000"/>
<rect x="559" y="283" width="1" height="17" fill="#000"/>
<rect x="557" y="286" width="5" height="3" fill="#000"/>
<rect x="567" y="279" width="1" height="22" fill="#000"/>
<rect x="565" y="288" width="5" height="12" fill="#000"/>
<rect x="575" y="297" width="1" height="30" fill="#000"/>
<rect x="573" y="300" width="5" height="20" fill="#000"/>
<rect x="583" y="322" width="1" height="3" fill="#000"/>
<rect x="581" y="323" width="5" height="2" fill="#000"/>
<rect x="591" y="315" width="1" height="12" fill="#000"/>
<rect x="589" y="322" width="5" height="2" fill="#000"/>
<rect x="599" y="306" width="1" height="23" fill="#000"/>
<rect x="597" y="306" width="5" height="17" fill="#000"/>
<rect x="598" y="307" width="3" height="15" fill="#fff"/>
<rect x="607" y="300" width="1" height="14" fill="#000"/>
<rect x="605" y="307" width="5" height="2" fill="#000"/>
<rect x="615" y="300" width="1" height="19" fill="#000"/>
<rect x="613" y="303" width="5" height="6" fill="#000"/>
<rect x="614" y="304" width="3" height="4" fill="#fff"/>
<rect x="623" y="292" width="1" height="16" fill="#000"/>
<rect x="621" y="300" width="5" height="3" fill="#000"/>
<rect x="622" y="301" width="3" height="1" fill="#fff"/>
<rect x="631" y="296" width="1" height="2" fill="#000"/>
<rect x="629" y="296" width="5" height="1" fill="#000"/>
<rect x="639" y="290" width="1" height="18" fill="#000"/>
<rect x="637" y="297" width="5" height="11" fill="#000"/>
<rect x="647" y="288" width="1" height="20" fill="#000"/>
<rect x="645" y="295" width="5" height="12" fill="#000"/>
<rect x="646" y="296" width="3" height="10" fill="#fff"/>
<rect x="655" y="290" width="1" height="16" fill="#000"/>
<rect x="653" y="295" width="5" height="8" fill="#000"/>
<rect x="663" y="300" width="1" height="17" fill="#000"/>
<rect x="661" y="302" width="5" height="9" fill="#000"/>
<rect x="671" y="309" width="1" height="21" fill="#000"/>
<rect x="669" y="310" width="5" height="17" fill="#000"/>
<rect x="679" y="323" width="1" height="3" fill="#000"/>
<rect x="677" y="324" width="5" height="2" fill="#000"/>
<rect x="687" y="319" width="1" height="22" fill="#000"/>
<rect x="685" y="324" width="5" height="14" fill="#000"/>
<rect x="695" y="329" width="1" height="26" fill="#000"/>
<rect x="693" y="330" width="5" height="7" fill="#000"/>
<rect x="694" y="331" width="3" height="5" fill="#fff"/>
<rect x="703" y="318" width="1" height="28" fill="#000"/>
<rect x="701" y="323" width="5" height="7" fill="#000"/>
<rect x="702" y="324" width="3" height="5" fill="#fff"/>
<rect x="711" y="314" width="1" height="23" fill="#000"/>
<rect x="709" y="323" width="5" height="10" fill="#000"/>
<rect x="719" y="323" width="1" height="19" fill="#000"/>
<rect x="717" y="323" width="5" height="10" fill="#000"/>
<rect x="718" y="324" width="3" height="8" fill="#fff"/>
<rect x="727" y="320" width="1" height="2" fill="#000"/>
<rect x="725" y="322" width="5" height="1" fill="#000"/>
<rect x="735" y="315" width="1" height="15" fill="#000"/>
<rect x="733" y="322" width="5" height="3" fill="#000"/>
<rect x="743" y="321" width="1" height="24" fill="#000"/>
<rect x="741" y="324" width="5" height="17" fill="#000"/>
<rect x="751" y="320" width="1" height="20" fill="#000"/>
<rect x="749" y="324" width="5" height="16" fill="#000"/>
<rect x="750" y="325" width="3" height="14" fill="#fff"/>
<rect x="759" y="310" width="1" height="22" fill="#000"/>
<rect x="757" y="323" width="5" height="6" fill="#000"/>
<rect x="767" y="313" width="1" height="21" fill="#000"/>
<rect x="765" y="320" width="5" height="8" fill="#000"/>
<rect x="766" y="321" width="3" height="6" fill="#fff"/>
<rect x="775" y="301" width="1" height="6" fill="#000"/>
<rect x="773" y="301" width="5" height="5" fill="#000"/>
<rect x="783" y="305" width="1" height="20" fill="#000"/>
<rect x="781" y="305" width="5" height="13" fill="#000"/>
<rect x="791" y="315" width="1" height="30" fill="#000"/>
<rect x="789" y="317" width="5" height="28" fill="#000"/>
<rect x="799" y="344" width="1" height="15" fill="#000"/>
<rect x="797" y="344" width="5" height="6" fill="#000"/>
<rect x="807" y="346" width="1" height="7" fill="#000"/>
<rect x="805" y="347" width="5" height="3" fill="#000"/>
<rect x="806" y="348" width="3" height="1" fill="#fff"/>
<rect x="815" y="339" width="1" height="13" fill="#000"/>
<rect x="813" y="340" width="5" height="9" fill="#000"/>
<rect x="814" y="341" width="3" height="7" fill="#fff"/>
<rect x="823" y="341" width="1" height="3" fill="#000"/>
<rect x="821" y="342" width="5" height="2" fill="#000"/>
<rect x="831" y="337" width="1" height="14" fill="#000"/>
<rect x="829" y="340" width="5" height="4" fill="#000"/>
<rect x="830" y="341" width="3" height="2" fill="#fff"/>
<rect x="839" y="334" width="1" height="21" fill="#000"/>
<rect x="837" y="338" width="5" height="10" fill="#000"/>
<rect x="847" y="339" width="1" height="14" fill="#000"/>
<rect x="845" y="347" width="5" height="5" fill="#000"/>
<rect x="855" y="339" width="1" height="22" fill="#000"/>
<rect x="853" y="341" width="5" height="10" fill="#000"/>
<rect x="854" y="342" width="3" height="8" fill="#fff"/>
<rect x="863" y="340" width="1" height="12" fill="#000"/>
<rect x="861" y="341" width="5" height="10" fill="#000"/>
<rect x="871" y="348" width="1" height="3" fill="#000"/>
<rect x="869" y="348" width="5" height="3" fill="#000"/>
<rect x="879" y="344" width="1" height="20" fill="#000"/>
<rect x="877" y="350" width="5" height="12" fill="#000"/>
<rect x="887" y="356" width="1" height="30" fill="#000"/>
<rect x="885" y="361" width="5" height="17" fill="#000"/>
<rect x="895" y="371" width="1" height="15" fill="#000"/>
<rect x="893" y="378" width="5" height="3" fill="#000"/>
<rect x="903" y="366" width="1" height="23" fill="#000"/>
<rect x="901" y="370" width="5" height="10" fill="#000"/>
<rect x="902" y="371" width="3" height="8" fill="#fff"/>
<rect x="911" y="362" width="1" height="11" fill="#000"/>
<rect x="909" y="368" width="5" height="1" fill="#000"/>
<rect x="919" y="364" width="1" height="4" fill="#000"/>
<rect x="917" y="364" width="5" height="3" fill="#000"/>
<rect x="918" y="365" width="3" height="1" fill="#fff"/>
<rect x="927" y="360" width="1" height="16" fill="#000"/>
<rect x="925" y="364" width="5" height="9" fill="#000"/>
<rect x="935" y="363" width="1" height="15" fill="#000"/>
<rect x="933" y="371" width="5" height="2" fill="#000"/>
<rect x="943" y="356" width="1" height="24" fill="#000"/>
<rect x="941" y="360" width="5" height="12" fill="#000"/>
<rect x="942" y="361" width="3" height="10" fill="#fff"/>
<rect x="951" y="347" width="1" height="23" fill="#000"/>
<rect x="949" y="356" width="5" height="4" fill="#000"/>
<rect x="950" y="357" width="3" height="2" fill="#fff"/>
<rect x="959" y="354" width="1" height="19" fill="#000"/>
<rect x="957" y="355" width="5" height="17" fill="#000"/>
<rect x="967" y="373" width="1" height="3" fill="#000"/>
<rect x="965" y="373" width="5" height="3" fill="#000"/>
<rect x="975" y="374" width="1" height="37" fill="#000"/>
<rect x="973" y="374" width="5" height="34" fill="#000"/>
<rect x="983" y="405" width="1" height="33" fill="#000"/>
<rect x="981" y="407" width="5" height="23" fill="#000"/>
<rect x="991" y="407" width="1" height="26" fill="#000"/>
<rect x="989" y="424" width="5" height="6" fill="#000"/>
<rect x="990" y="425" width="3" height="4" fill="#fff"/>
<rect x="999" y="416" width="1" height="58" fill="#000"/>
<rect x="997" y="423" width="5" height="45" fill="#000"/>
<rect x="1007" y="464" width="1" height="31" fill="#000"/>
<rect x="1005" y="467" width="5" height="17" fill="#000"/>
<rect x="1015" y="483" width="1" height="4" fill="#000"/>
<rect x="1013" y="483" width="5" height="3" fill="#000"/>
<rect x="1023" y="483" width="1" height="33" fill="#000"/>
<rect x="1021" y="485" width="5" height="25" fill="#000"/>
<rect x="1031" y="472" width="1" height="38" fill="#000"/>
<rect x="1029" y="487" width="5" height="23" fill="#000"/>
<rect x="1030" y="488" width="3" height="21" fill="#fff"/>
<rect x="1039" y="484" width="1" height="30" fill="#000"/>
<rect x="1037" y="487" width="5" height="13" fill="#000"/>
<rect x="1047" y="488" width="1" height="24" fill="#000"/>
<rect x="1045" y="499" width="5" height="7" fill="#000"/>
<rect x="1055" y="501" width="1" height="40" fill="#000"/>
<rect x="1053" y="505" width="5" height="30" fill="#000"/>
<rect x="1063" y="538" width="1" height="13" fill="#000"/>
<rect x="1061" y="538" width="5" height="10" fill="#000"/>
<rect x="1071" y="528" width="1" height="20" fill="#000"/>
<rect x="1069" y="534" width="5" height="13" fill="#000"/>
<rect x="1070" y="535" width="3" height="11" fill="#fff"/>
<rect x="1079" y="490" width="1" height="55" fill="#000"/>
<rect x="1077" y="504" width="5" height="31" fill="#000"/>
<rect x="1078" y="505" width="3" height="29" fill="#fff"/>
<rect x="1087" y="503" width="1" height="27" fill="#000"/>
<rect x="1085" y="504" width="5" height="21" fill="#000"/>
<rect x="1095" y="496" width="1" height="32" fill="#000"/>
<rect x="1093" y="511" width="5" height="13" fill="#000"/>
<rect x="1094" y="512" width="3" height="11" fill="#fff"/>
<rect x="1103" y="483" width="1" height="32" fill="#000"/>
<rect x="1101" y="492" width="5" height="21" fill="#000"/>
<rect x="1102" y="493" width="3" height="19" fill="#fff"/>
<rect x="1111" y="486" width="1" height="2" fill="#000"/>
<rect x="1109" y="486" width="5" height="1" fill="#000"/>
<rect x="1119" y="484" width="1" height="13" fill="#000"/>
<rect x="1117" y="487" width="5" height="4" fill="#000"/>
<rect x="1127" y="482" width="1" height="31" fill="#000"/>
<rect x="1125" y="490" width="5" height="1" fill="#000"/>
<rect x="1135" y="480" width="1" height="19" fill="#000"/>
<rect x="1133" y="488" width="5" height="2" fill="#000"/>
<rect x="1143" y="458" width="1" height="44" fill="#000"/>
<rect x="1141" y="463" width="5" height="27" fill="#000"/>
<rect x="1142" y="464" width="3" height="25" fill="#fff"/>
<rect x="1151" y="461" width="1" height="35" fill="#000"/>
<rect x="1149" y="464" width="5" height="24" fill="#000"/>
<rect x="1159" y="499" width="1" height="8" fill="#000"/>
<rect x="1157" y="503" width="5" height="3" fill="#000"/>
<rect x="1167" y="470" width="1" height="36" fill="#000"/>
<rect x="1165" y="484" width="5" height="21" fill="#000"/>
<rect x="1166" y="485" width="3" height="19" fill="#fff"/>
<rect x="1175" y="465" width="1" height="31" fill="#000"/>
<rect x="1173" y="476" width="5" height="8" fill="#000"/>
<rect x="1174" y="477" width="3" height="6" fill="#fff"/>
<rect x="1183" y="472" width="1" height="36" fill="#000"/>
<rect x="1181" y="476" width="5" height="7" fill="#000"/>
<rect x="1191" y="473" width="1" height="24" fill="#000"/>
<rect x="1189" y="480" width="5" height="3" fill="#000"/>
<rect x="1190" y="481" width="3" height="1" fill="#fff"/>
<rect x="1199" y="477" width="1" height="18" fill="#000"/>
<rect x="1197" y="479" width="5" height="14" fill="#000"/>
<rect x="1207" y="493" width="1" height="3" fill="#000"/>
<rect x="1205" y="494" width="5" height="2" fill="#000"/>
<rect x="1215" y="488" width="1" height="33" fill="#000"/>
<rect x="1213" y="494" width="5" height="22" fill="#000"/>
<rect x="1223" y="512" width="1" height="36" fill="#000"/>
<rect x="1221" y="515" width="5" height="4" fill="#000"/>
<rect x="1231" y="464" width="1" height="56" fill="#000"/>
<rect x="1229" y="468" width="5" height="51" fill="#000"/>
<rect x="1230" y="469" width="3" height="49" fill="#fff"/>
<rect x="1239" y="425" width="1" height="51" fill="#000"/>
<rect x="1237" y="430" width="5" height="40" fill="#000"/>
<rect x="1238" y="431" width="3" height="38" fill="#fff"/>
<rect x="1247" y="426" width="1" height="20" fill="#000"/>
<rect x="1245" y="430" width="5" height="12" fill="#000"/>
<rect x="1255" y="442" width="1" height="3" fill="#000"/>
<rect x="1253" y="443" width="5" height="2" fill="#000"/>
<rect x="1263" y="416" width="1" height="40" fill="#000"/>
<rect x="1261" y="417" width="5" height="25" fill="#000"/>
<rect x="1262" y="418" width="3" height="23" fill="#fff"/>
<rect x="1271" y="407" width="1" height="22" fill="#000"/>
<rect x="1269" y="407" width="5" height="11" fill="#000"/>
<rect x="1270" y="408" width="3" height="9" fill="#fff"/>
<rect x="1279" y="399" width="1" height="15" fill="#000"/>
<rect x="1277" y="401" width="5" height="9" fill="#000"/>
<rect x="1278" y="402" width="3" height="7" fill="#fff"/>
<rect x="1287" y="392" width="1" height="34" fill="#000"/>
<rect x="1285" y="398" width="5" height="5" fill="#000"/>
<rect x="1286" y="399" width="3" height="3" fill="#fff"/>
<rect x="1295" y="362" width="1" height="39" fill="#000"/>
<rect x="1293" y="363" width="5" height="36" fill="#000"/>
<rect x="1294" y="364" width="3" height="34" fill="#fff"/>
<rect x="1303" y="368" width="1" height="6" fill="#000"/>
<rect x="1301" y="369" width="5" height="4" fill="#000"/>
<rect x="1302" y="370" width="3" height="2" fill="#fff"/>
<rect x="1311" y="372" width="1" height="16" fill="#000"/>
<rect x="1309" y="372" width="5" height="5" fill="#000"/>
<rect x="1319" y="353" width="1" height="33" fill="#000"/>
<rect x="1317" y="359" width="5" height="18" fill="#000"/>
<rect x="1318" y="360" width="3" height="16" fill="#fff"/>
</g>
<path d="M1328 29 H1337 L1332.5 34 Z" fill="#C0C0C0" shape-rendering="auto"/>
<rect x="1280" y="367" width="44" height="8" fill="#00FF00"/>
<rect x="7" y="592" width="1" height="53" fill="#C0C0C0"/>
<rect x="15" y="604" width="1" height="41" fill="#C0C0C0"/>
<rect x="23" y="601" width="1" height="44" fill="#C0C0C0"/>
<rect x="31" y="607" width="1" height="38" fill="#C0C0C0"/>
<rect x="39" y="602" width="1" height="43" fill="#C0C0C0"/>
<rect x="47" y="598" width="1" height="47" fill="#C0C0C0"/>
<rect x="55" y="594" width="1" height="51" fill="#C0C0C0"/>
<rect x="63" y="592" width="1" height="53" fill="#C0C0C0"/>
<rect x="71" y="593" width="1" height="52" fill="#C0C0C0"/>
<rect x="79" y="594" width="1" height="51" fill="#C0C0C0"/>
<rect x="87" y="602" width="1" height="43" fill="#C0C0C0"/>
<rect x="95" y="612" width="1" height="33" fill="#C0C0C0"/>
<rect x="103" y="621" width="1" height="24" fill="#C0C0C0"/>
<rect x="111" y="628" width="1" height="17" fill="#C0C0C0"/>
<rect x="119" y="633" width="1" height="12" fill="#C0C0C0"/>
<rect x="127" y="635" width="1" height="10" fill="#C0C0C0"/>
<rect x="135" y="639" width="1" height="6" fill="#C0C0C0"/>
<rect x="143" y="643" width="1" height="2" fill="#C0C0C0"/>
<rect x="151" y="644" width="1" height="9" fill="#C0C0C0"/>
<rect x="159" y="644" width="1" height="13" fill="#C0C0C0"/>
<rect x="167" y="644" width="1" height="11" fill="#C0C0C0"/>
<rect x="175" y="644" width="1" height="7" fill="#C0C0C0"/>
<rect x="183" y="644" width="1" height="2" fill="#C0C0C0"/>
<rect x="191" y="644" width="1" height="2" fill="#C0C0C0"/>
<rect x="199" y="644" width="1" height="2" fill="#C0C0C0"/>
<rect x="207" y="644" width="1" height="2" fill="#C0C0C0"/>
<rect x="215" y="644" width="1" height="2" fill="#C0C0C0"/>
<rect x="223" y="644" width="1" height="4" fill="#C0C0C0"/>
<rect x="231" y="644" width="1" height="5" fill="#C0C0C0"/>
<rect x="239" y="644" width="1" height="3" fill="#C0C0C0"/>
<rect x="247" y="644" width="1" height="2" fill="#C0C0C0"/>
<rect x="255" y="641" width="1" height="4" fill="#C0C0C0"/>
<rect x="263" y="638" width="1" height="7" fill="#C0C0C0"/>
<rect x="271" y="639" width="1" height="6" fill="#C0C0C0"/>
<rect x="279" y="639" width="1" height="6" fill="#C0C0C0"/>
<rect x="287" y="642" width="1" height="3" fill="#C0C0C0"/>
<rect x="295" y="643" width="1" height="2" fill="#C0C0C0"/>
<rect x="303" y="644" width="1" height="2" fill="#C0C0C0"/>
<rect x="311" y="644" width="1" height="6" fill="#C0C0C0"/>
<rect x="319" y="644" width="1" height="9" fill="#C0C0C0"/>
<rect x="327" y="644" width="1" height="15" fill="#C0C0C0"/>
<rect x="335" y="644" width="1" height="18" fill="#C0C0C0"/>
<rect x="343" y="644" width="1" height="20" fill="#C0C0C0"/>
<rect x="351" y="644" width="1" height="20" fill="#C0C0C0"/>
<rect x="359" y="644" width="1" height="17" fill="#C0C0C0"/>
<rect x="367" y="644" width="1" height="13" fill="#C0C0C0"/>
<rect x="375" y="644" width="1" height="10" fill="#C0C0C0"/>
<rect x="383" y="644" width="1" height="6" fill="#C0C0C0"/>
<rect x="391" y="644" width="1" height="4" fill="#C0C0C0"/>
<rect x="399" y="644" width="1" height="5" fill="#C0C0C0"/>
<rect x="407" y="644" width="1" height="9" fill="#C0C0C0"/>
<rect x="415" y="644" width="1" height="17" fill="#C0C0C0"/>
<rect x="423" y="644" width="1" height="23" fill="#C0C0C0"/>
<rect x="431" y="644" width="1" height="28" fill="#C0C0C0"/>
<rect x="439" y="644" width="1" height="33" fill="#C0C0C0"/>
<rect x="447" y="644" width="1" height="41" fill="#C0C0C0"/>
<rect x="455" y="644" width="1" height="46" fill="#C0C0C0"/>
<rect x="463" y="644" width="1" height="54" fill="#C0C0C0"/>
<rect x="471" y="644" width="1" height="60" fill="#C0C0C0"/>
<rect x="479" y="644" width="1" height="65" fill="#C0C0C0"/>
<rect x="487" y="644" width="1" height="69" fill="#C0C0C0"/>
<rect x="495" y="644" width="1" height="71" fill="#C0C0C0"/>
<rect x="503" y="644" width="1" height="70" fill="#C0C0C0"/>
<rect x="511" y="644" width="1" height="73" fill="#C0C0C0"/>
<rect x="519" y="644" width="1" height="78" fill="#C0C0C0"/>
<rect x="527" y="644" width="1" height="79" fill="#C0C0C0"/>
<rect x="535" y="644" width="1" height="79" fill="#C0C0C0"/>
<rect x="543" y="644" width="1" height="79" fill="#C0C0C0"/>
<rect x="551" y="644" width="1" height="80" fill="#C0C0C0"/>
<rect x="559" y="644" width="1" height="80" fill="#C0C0C0"/>
<rect x="567" y="644" width="1" height="82" fill="#C0C0C0"/>
<rect x="575" y="644" width="1" height="86" fill="#C0C0C0"/>
<rect x="583" y="644" width="1" height="88" fill="#C0C0C0"/>
<rect x="591" y="644" width="1" height="89" fill="#C0C0C0"/>
<rect x="599" y="644" width="1" height="86" fill="#C0C0C0"/>
<rect x="607" y="644" width="1" height="83" fill="#C0C0C0"/>
<rect x="615" y="644" width="1" height="79" fill="#C0C0C0"/>
<rect x="623" y="644" width="1" height="74" fill="#C0C0C0"/>
<rect x="631" y="644" width="1" height="69" fill="#C0C0C0"/>
<rect x="639" y="644" width="1" height="66" fill="#C0C0C0"/>
<rect x="647" y="644" width="1" height="60" fill="#C0C0C0"/>
<rect x="655" y="644" width="1" height="57" fill="#C0C0C0"/>
<rect x="663" y="644" width="1" height="55" fill="#C0C0C0"/>
<rect x="671" y="644" width="1" height="56" fill="#C0C0C0"/>
<rect x="679" y="644" width="1" height="55" fill="#C0C0C0"/>
<rect x="687" y="644" width="1" height="57" fill="#C0C0C0"/>
<rect x="695" y="644" width="1" height="56" fill="#C0C0C0"/>
<rect x="703" y="644" width="1" height="54" fill="#C0C0C0"/>
<rect x="711" y="644" width="1" height="53" fill="#C0C0C0"/>
<rect x="719" y="644" width="1" height="50" fill="#C0C0C0"/>
<rect x="727" y="644" width="1" height="46" fill="#C0C0C0"/>
<rect x="735" y="644" width="1" height="44" fill="#C0C0C0"/>
<rect x="743" y="644" width="1" height="44" fill="#C0C0C0"/>
<rect x="751" y="644" width="1" height="40" fill="#C0C0C0"/>
<rect x="759" y="644" width="1" height="38" fill="#C0C0C0"/>
<rect x="767" y="644" width="1" height="34" fill="#C0C0C0"/>
<rect x="775" y="644" width="1" height="29" fill="#C0C0C0"/>
<rect x="783" y="644" width="1" height="27" fill="#C0C0C0"/>
<rect x="791" y="644" width="1" height="29" fill="#C0C0C0"/>
<rect x="799" y="644" width="1" height="32" fill="#C0C0C0"/>
<rect x="807" y="644" width="1" height="33" fill="#C0C0C0"/>
<rect x="815" y="644" width="1" height="32" fill="#C0C0C0"/>
<rect x="823" y="644" width="1" height="31" fill="#C0C0C0"/>
<rect x="831" y="644" width="1" height="31" fill="#C0C0C0"/>
<rect x="839" y="644" width="1" height="31" fill="#C0C0C0"/>
<rect x="847" y="644" width="1" height="31" fill="#C0C0C0"/>
<rect x="855" y="644" width="1" height="29" fill="#C0C0C0"/>
<rect x="863" y="644" width="1" height="29" fill="#C0C0C0"/>
<rect x="871" y="644" width="1" height="29" fill="#C0C0C0"/>
<rect x="879" y="644" width="1" height="30" fill="#C0C0C0"/>
<rect x="887" y="644" width="1" height="34" fill="#C0C0C0"/>
<rect x="895" y="644" width="1" height="38" fill="#C0C0C0"/>
<rect x="903" y="644" width="1" height="37" fill="#C0C0C0"/>
<rect x="911" y="644" width="1" height="37" fill="#C0C0C0"/>
<rect x="919" y="644" width="1" height="35" fill="#C0C0C0"/>
<rect x="927" y="644" width="1" height="35" fill="#C0C0C0"/>
<rect x="935" y="644" width="1" height="34" fill="#C0C0C0"/>
<rect x="943" y="644" width="1" height="31" fill="#C0C0C0"/>
<rect x="951" y="644" width="1" height="27" fill="#C0C0C0"/>
<rect x="959" y="644" width="1" height="27" fill="#C0C0C0"/>
<rect x="967" y="644" width="1" height="27" fill="#C0C0C0"/>
<rect x="975" y="644" width="1" height="33" fill="#C0C0C0"/>
<rect x="983" y="644" width="1" height="42" fill="#C0C0C0"/>
<rect x="991" y="644" width="1" height="47" fill="#C0C0C0"/>
<rect x="999" y="644" width="1" height="59" fill="#C0C0C0"/>
<rect x="1007" y="644" width="1" height="70" fill="#C0C0C0"/>
<rect x="1015" y="644" width="1" height="79" fill="#C0C0C0"/>
<rect x="1023" y="644" width="1" height="89" fill="#C0C0C0"/>
<rect x="1031" y="644" width="1" height="92" fill="#C0C0C0"/>
<rect x="1039" y="644" width="1" height="95" fill="#C0C0C0"/>
<rect x="1047" y="644" width="1" height="98" fill="#C0C0C0"/>
<rect x="1055" y="644" width="1" height="105" fill="#C0C0C0"/>
<rect x="1063" y="644" width="1" height="111" fill="#C0C0C0"/>
<rect x="1071" y="644" width="1" height="112" fill="#C0C0C0"/>
<rect x="1079" y="644" width="1" height="107" fill="#C0C0C0"/>
<rect x="1087" y="644" width="1" height="103" fill="#C0C0C0"/>
<rect x="1095" y="644" width="1" height="99" fill="#C0C0C0"/>
<rect x="1103" y="644" width="1" height="90" fill="#C0C0C0"/>
<rect x="1111" y="644" width="1" height="81" fill="#C0C0C0"/>
<rect x="1119" y="644" width="1" height="74" fill="#C0C0C0"/>
<rect x="1127" y="644" width="1" height="67" fill="#C0C0C0"/>
<rect x="1135" y="644" width="1" height="61" fill="#C0C0C0"/>
<rect x="1143" y="644" width="1" height="51" fill="#C0C0C0"/>
<rect x="1151" y="644" width="1" height="47" fill="#C0C0C0"/>
<rect x="1159" y="644" width="1" height="47" fill="#C0C0C0"/>
<rect x="1167" y="644" width="1" height="42" fill="#C0C0C0"/>
<rect x="1175" y="644" width="1" height="36" fill="#C0C0C0"/>
<rect x="1183" y="644" width="1" height="32" fill="#C0C0C0"/>
<rect x="1191" y="644" width="1" height="28" fill="#C0C0C0"/>
<rect x="1199" y="644" width="1" height="27" fill="#C0C0C0"/>
<rect x="1207" y="644" width="1" height="27" fill="#C0C0C0"/>
<rect x="1215" y="644" width="1" height="30" fill="#C0C0C0"/>
<rect x="1223" y="644" width="1" height="33" fill="#C0C0C0"/>
<rect x="1231" y="644" width="1" height="25" fill="#C0C0C0"/>
<rect x="1239" y="644" width="1" height="10" fill="#C0C0C0"/>
<rect x="1247" y="644" width="1" height="3" fill="#C0C0C0"/>
<rect x="1255" y="641" width="1" height="4" fill="#C0C0C0"/>
<rect x="1263" y="632" width="1" height="13" fill="#C0C0C0"/>
<rect x="1271" y="622" width="1" height="23" fill="#C0C0C0"/>
<rect x="1279" y="614" width="1" height="31" fill="#C0C0C0"/>
<rect x="1287" y="607" width="1" height="38" fill="#C0C0C0"/>
<rect x="1295" y="596" width="1" height="49" fill="#C0C0C0"/>
<rect x="1303" y="589" width="1" height="56" fill="#C0C0C0"/>
<rect x="1311" y="585" width="1" height="60" fill="#C0C0C0"/>
<rect x="1319" y="579" width="1" height="66" fill="#C0C0C0"/>
<path fill="#FF0000" d="M0 577h3v1h-3zM6 577h3v1h-3zM12 578h3v1h-3zM18 579h3v1h-3zM24 581h2v1h-2zM26 582h1v1h-1zM30 583h1v1h-1zM31 584h2v1h-2zM36 586h1v1h-1zM37 587h2v1h-2zM42 589h1v1h-1zM43 590h2v1h-2zM48 591h1v1h-1zM49 592h2v1h-2zM54 594h3v1h-3zM60 595h3v1h-3zM66 596h3v1h-3zM72 597h3v1h-3zM78 597h3v1h-3zM84 597h1v1h-1zM85 598h2v1h-2zM90 598h3v1h-3zM96 598h3v1h-3zM102 600h3v1h-3zM108 602h3v1h-3zM114 604h2v1h-2zM116 605h1v1h-1zM120 607h1v1h-1zM1319 607h1v1h-1zM121 608h2v1h-2zM126 610h2v1h-2zM128 611h1v1h-1zM1315 611h1v1h-1zM1314 612h1v1h-1zM1313 613h1v1h-1zM132 614h1v1h-1zM133 615h2v1h-2zM1310 617h1v1h-1zM138 618h1v1h-1zM1309 618h1v1h-1zM139 619h1v1h-1zM1308 619h1v1h-1zM140 620h1v1h-1zM144 623h1v1h-1zM1304 623h1v1h-1zM145 624h2v1h-2zM1303 624h1v1h-1zM1302 625h1v1h-1zM150 628h1v1h-1zM151 629h1v1h-1zM1298 629h1v1h-1zM152 630h1v1h-1zM1297 630h1v1h-1zM1296 631h1v1h-1zM156 633h1v1h-1zM157 634h2v1h-2zM1292 635h1v1h-1zM1291 636h1v1h-1zM162 637h2v1h-2zM1290 637h1v1h-1zM164 638h1v1h-1zM168 640h1v1h-1zM1286 640h1v1h-1zM169 641h2v1h-2zM1285 641h1v1h-1zM289 642h2v1h-2zM294 642h3v1h-3zM300 642h3v1h-3zM306 642h3v1h-3zM312 642h3v1h-3zM1284 642h1v1h-1zM174 643h2v1h-2zM278 643h1v1h-1zM282 643h3v1h-3zM288 643h1v1h-1zM318 643h3v1h-3zM176 644h1v1h-1zM270 644h3v1h-3zM276 644h2v1h-2zM324 644h3v1h-3zM180 645h2v1h-2zM264 645h3v1h-3zM330 645h1v1h-1zM182 646h1v1h-1zM186 646h1v1h-1zM252 646h3v1h-3zM258 646h3v1h-3zM331 646h2v1h-2zM1280 646h1v1h-1zM187 647h2v1h-2zM236 647h1v1h-1zM240 647h3v1h-3zM246 647h3v1h-3zM1278 647h2v1h-2zM192 648h3v1h-3zM228 648h3v1h-3zM234 648h2v1h-2zM336 648h1v1h-1zM198 649h3v1h-3zM204 649h3v1h-3zM210 649h3v1h-3zM216 649h3v1h-3zM222 649h3v1h-3zM337 649h2v1h-2zM342 651h2v1h-2zM1274 651h1v1h-1zM344 652h1v1h-1zM1273 652h1v1h-1zM348 653h1v1h-1zM1272 653h1v1h-1zM349 654h2v1h-2zM414 655h3v1h-3zM420 655h1v1h-1zM354 656h3v1h-3zM408 656h3v1h-3zM421 656h2v1h-2zM426 656h3v1h-3zM1268 656h1v1h-1zM360 657h3v1h-3zM366 657h3v1h-3zM390 657h3v1h-3zM396 657h3v1h-3zM402 657h3v1h-3zM432 657h3v1h-3zM1266 657h2v1h-2zM372 658h3v1h-3zM378 658h3v1h-3zM384 658h3v1h-3zM438 658h2v1h-2zM440 659h1v1h-1zM1262 660h1v1h-1zM444 661h3v1h-3zM1260 661h2v1h-2zM450 663h1v1h-1zM451 664h2v1h-2zM1255 664h2v1h-2zM1254 665h1v1h-1zM456 667h2v1h-2zM1250 667h1v1h-1zM458 668h1v1h-1zM1248 668h2v1h-2zM462 671h2v1h-2zM1243 671h2v1h-2zM464 672h1v1h-1zM1242 672h1v1h-1zM1236 674h3v1h-3zM828 675h3v1h-3zM834 675h3v1h-3zM840 675h3v1h-3zM846 675h3v1h-3zM852 675h3v1h-3zM858 675h3v1h-3zM864 675h3v1h-3zM870 675h3v1h-3zM876 675h3v1h-3zM882 675h3v1h-3zM888 675h3v1h-3zM894 675h3v1h-3zM1232 675h1v1h-1zM468 676h2v1h-2zM822 676h3v1h-3zM900 676h3v1h-3zM973 676h2v1h-2zM978 676h3v1h-3zM984 676h3v1h-3zM1230 676h2v1h-2zM470 677h1v1h-1zM812 677h1v1h-1zM816 677h3v1h-3zM906 677h3v1h-3zM912 677h3v1h-3zM918 677h3v1h-3zM960 677h3v1h-3zM966 677h3v1h-3zM972 677h1v1h-1zM1224 677h3v1h-3zM810 678h2v1h-2zM924 678h1v1h-1zM954 678h3v1h-3zM990 678h1v1h-1zM1219 678h2v1h-2zM804 679h3v1h-3zM925 679h2v1h-2zM930 679h3v1h-3zM936 679h3v1h-3zM942 679h3v1h-3zM948 679h3v1h-3zM991 679h2v1h-2zM1218 679h1v1h-1zM798 680h3v1h-3zM996 680h3v1h-3zM1212 680h3v1h-3zM474 681h1v1h-1zM792 681h3v1h-3zM1002 681h1v1h-1zM1207 681h2v1h-2zM475 682h2v1h-2zM788 682h1v1h-1zM1003 682h1v1h-1zM1206 682h1v1h-1zM786 683h2v1h-2zM1004 683h1v1h-1zM782 684h1v1h-1zM1201 684h2v1h-2zM780 685h2v1h-2zM1008 685h1v1h-1zM1200 685h1v1h-1zM480 686h1v1h-1zM776 686h1v1h-1zM1009 686h1v1h-1zM481 687h2v1h-2zM774 687h2v1h-2zM1010 687h1v1h-1zM770 688h1v1h-1zM1195 688h2v1h-2zM768 689h2v1h-2zM1194 689h1v1h-1zM486 690h2v1h-2zM764 690h1v1h-1zM1014 690h1v1h-1zM488 691h1v1h-1zM762 691h2v1h-2zM1015 691h1v1h-1zM1190 691h1v1h-1zM758 692h1v1h-1zM1016 692h1v1h-1zM1189 692h1v1h-1zM756 693h2v1h-2zM1188 693h1v1h-1zM492 694h2v1h-2zM750 694h3v1h-3zM494 695h1v1h-1zM744 695h3v1h-3zM1020 695h1v1h-1zM1184 695h1v1h-1zM738 696h3v1h-3zM1021 696h1v1h-1zM1183 696h1v1h-1zM498 697h1v1h-1zM732 697h3v1h-3zM1022 697h1v1h-1zM1182 697h1v1h-1zM499 698h2v1h-2zM726 698h3v1h-3zM720 699h3v1h-3zM504 700h1v1h-1zM714 700h3v1h-3zM1177 700h2v1h-2zM505 701h1v1h-1zM708 701h3v1h-3zM1026 701h2v1h-2zM1176 701h1v1h-1zM506 702h1v1h-1zM702 702h3v1h-3zM1028 702h1v1h-1zM696 703h3v1h-3zM510 704h3v1h-3zM690 704h3v1h-3zM1172 704h1v1h-1zM684 705h3v1h-3zM1032 705h1v1h-1zM1170 705h2v1h-2zM680 706h1v1h-1zM1033 706h1v1h-1zM516 707h3v1h-3zM678 707h2v1h-2zM1034 707h1v1h-1zM1166 708h1v1h-1zM522 709h1v1h-1zM674 709h1v1h-1zM1165 709h1v1h-1zM523 710h1v1h-1zM672 710h2v1h-2zM1038 710h1v1h-1zM1164 710h1v1h-1zM524 711h1v1h-1zM1039 711h1v1h-1zM668 712h1v1h-1zM1040 712h1v1h-1zM528 713h3v1h-3zM666 713h2v1h-2zM1160 713h1v1h-1zM1159 714h1v1h-1zM534 715h3v1h-3zM661 715h2v1h-2zM1158 715h1v1h-1zM660 716h1v1h-1zM1044 716h1v1h-1zM540 717h2v1h-2zM1045 717h2v1h-2zM542 718h1v1h-1zM546 718h3v1h-3zM654 718h3v1h-3zM1154 718h1v1h-1zM552 719h3v1h-3zM1153 719h1v1h-1zM558 720h2v1h-2zM649 720h2v1h-2zM1152 720h1v1h-1zM560 721h1v1h-1zM648 721h1v1h-1zM1050 721h1v1h-1zM564 722h3v1h-3zM644 722h1v1h-1zM1051 722h1v1h-1zM570 723h2v1h-2zM642 723h2v1h-2zM1052 723h1v1h-1zM1148 723h1v1h-1zM572 724h1v1h-1zM576 724h2v1h-2zM1146 724h2v1h-2zM578 725h1v1h-1zM582 725h2v1h-2zM637 725h2v1h-2zM584 726h1v1h-1zM588 726h3v1h-3zM630 726h3v1h-3zM636 726h1v1h-1zM594 727h3v1h-3zM600 727h3v1h-3zM620 727h1v1h-1zM624 727h3v1h-3zM1056 727h1v1h-1zM1142 727h1v1h-1zM606 728h3v1h-3zM612 728h3v1h-3zM618 728h2v1h-2zM1057 728h1v1h-1zM1141 728h1v1h-1zM1058 729h1v1h-1zM1140 729h1v1h-1zM1062 732h1v1h-1zM1136 732h1v1h-1zM1063 733h1v1h-1zM1134 733h2v1h-2zM1064 734h1v1h-1zM1130 736h1v1h-1zM1128 737h2v1h-2zM1068 738h2v1h-2zM1070 739h1v1h-1zM1123 740h2v1h-2zM1074 741h1v1h-1zM1122 741h1v1h-1zM1075 742h2v1h-2zM1117 743h2v1h-2zM1080 744h2v1h-2zM1116 744h1v1h-1zM1082 745h1v1h-1zM1110 745h3v1h-3zM1086 746h3v1h-3zM1092 747h3v1h-3zM1098 747h3v1h-3zM1104 747h3v1h-3z"/>
<path fill="#1E90FF" d="M1295 815h2v1h-2zM1294 816h1v1h-1zM1297 816h2v1h-2zM1293 817h1v1h-1zM1299 817h3v1h-3zM1292 818h1v1h-1zM1302 818h3v1h-3zM1318 818h2v1h-2zM1291 819h1v1h-1zM1305 819h1v1h-1zM1317 819h1v1h-1zM1290 820h1v1h-1zM1306 820h3v1h-3zM1314 820h3v1h-3zM1289 821h1v1h-1zM1309 821h1v1h-1zM1313 821h1v1h-1zM1288 822h1v1h-1zM1310 822h3v1h-3zM1284 823h4v1h-4zM1277 824h7v1h-7zM1274 825h3v1h-3zM1270 826h4v1h-4zM1267 827h3v1h-3zM1265 828h2v1h-2zM1263 829h2v1h-2zM23 830h1v2h-1zM61 830h3v1h-3zM1262 830h1v1h-1zM45 831h7v1h-7zM58 831h3v1h-3zM64 831h2v1h-2zM1261 831h1v1h-1zM22 832h1v4h-1zM24 832h1v2h-1zM42 832h3v1h-3zM52 832h6v1h-6zM66 832h2v1h-2zM1239 832h2v1h-2zM1260 832h1v1h-1zM39 833h3v1h-3zM68 833h1v1h-1zM1238 833h1v1h-1zM1241 833h1v1h-1zM1259 833h1v2h-1zM25 834h1v2h-1zM38 834h1v2h-1zM69 834h2v1h-2zM1237 834h1v2h-1zM1242 834h3v1h-3zM71 835h9v1h-9zM1245 835h1v1h-1zM1258 835h1v1h-1zM21 836h1v3h-1zM26 836h1v2h-1zM37 836h1v2h-1zM80 836h1v2h-1zM383 836h1v1h-1zM1236 836h1v1h-1zM1246 836h4v1h-4zM1257 836h1v1h-1zM382 837h1v2h-1zM384 837h1v2h-1zM1235 837h1v1h-1zM1250 837h3v1h-3zM1256 837h1v1h-1zM0 838h1v2h-1zM27 838h1v3h-1zM36 838h1v2h-1zM81 838h1v2h-1zM1234 838h1v1h-1zM1253 838h3v1h-3zM20 839h1v3h-1zM183 839h1v1h-1zM247 839h17v1h-17zM381 839h1v1h-1zM385 839h1v1h-1zM1233 839h1v2h-1zM1 840h1v2h-1zM35 840h1v2h-1zM82 840h1v2h-1zM181 840h2v1h-2zM184 840h1v1h-1zM246 840h1v1h-1zM264 840h1v1h-1zM380 840h1v2h-1zM386 840h1v2h-1zM28 841h1v2h-1zM180 841h1v1h-1zM185 841h1v1h-1zM245 841h1v1h-1zM265 841h1v1h-1zM1232 841h1v1h-1zM2 842h1v3h-1zM19 842h1v4h-1zM34 842h1v2h-1zM83 842h1v1h-1zM178 842h2v1h-2zM186 842h1v1h-1zM244 842h1v1h-1zM266 842h1v1h-1zM379 842h1v1h-1zM387 842h1v1h-1zM1231 842h1v2h-1zM29 843h1v2h-1zM84 843h1v2h-1zM176 843h2v1h-2zM187 843h1v1h-1zM243 843h1v2h-1zM267 843h2v1h-2zM378 843h1v2h-1zM388 843h1v2h-1zM33 844h1v2h-1zM175 844h1v1h-1zM188 844h1v1h-1zM269 844h1v1h-1zM1230 844h1v3h-1zM3 845h1v2h-1zM30 845h1v2h-1zM85 845h1v2h-1zM173 845h2v1h-2zM189 845h1v1h-1zM242 845h1v1h-1zM270 845h1v1h-1zM377 845h1v1h-1zM389 845h1v1h-1zM18 846h1v3h-1zM32 846h1v2h-1zM172 846h1v1h-1zM190 846h1v1h-1zM241 846h1v1h-1zM271 846h9v1h-9zM365 846h5v1h-5zM376 846h1v2h-1zM390 846h1v2h-1zM4 847h1v2h-1zM31 847h1v2h-1zM86 847h1v2h-1zM170 847h2v1h-2zM191 847h2v1h-2zM240 847h1v1h-1zM280 847h1v1h-1zM362 847h3v1h-3zM370 847h3v1h-3zM1229 847h1v4h-1zM127 848h1v1h-1zM168 848h2v1h-2zM193 848h1v1h-1zM238 848h2v1h-2zM281 848h1v1h-1zM359 848h3v1h-3zM373 848h3v1h-3zM391 848h2v1h-2zM775 848h1v1h-1zM1143 848h1v1h-1zM5 849h1v3h-1zM17 849h1v3h-1zM87 849h1v1h-1zM126 849h1v1h-1zM128 849h1v1h-1zM167 849h1v1h-1zM194 849h3v1h-3zM205 849h7v1h-7zM237 849h1v1h-1zM282 849h1v1h-1zM358 849h1v2h-1zM393 849h1v1h-1zM774 849h1v1h-1zM776 849h1v1h-1zM1142 849h1v2h-1zM1144 849h1v1h-1zM88 850h2v1h-2zM124 850h2v1h-2zM129 850h1v1h-1zM166 850h1v2h-1zM197 850h1v1h-1zM202 850h3v1h-3zM212 850h4v1h-4zM234 850h3v1h-3zM283 850h1v2h-1zM394 850h3v1h-3zM773 850h1v2h-1zM777 850h1v1h-1zM1145 850h1v1h-1zM90 851h2v1h-2zM123 851h1v1h-1zM130 851h1v1h-1zM198 851h4v1h-4zM216 851h2v1h-2zM233 851h1v1h-1zM357 851h1v2h-1zM397 851h1v1h-1zM778 851h1v1h-1zM1141 851h1v1h-1zM1146 851h1v1h-1zM1174 851h4v1h-4zM1228 851h1v3h-1zM6 852h1v2h-1zM16 852h1v4h-1zM92 852h1v1h-1zM121 852h2v1h-2zM131 852h2v1h-2zM165 852h1v1h-1zM218 852h2v1h-2zM230 852h3v1h-3zM284 852h1v1h-1zM398 852h2v1h-2zM772 852h1v1h-1zM779 852h2v1h-2zM1140 852h1v2h-1zM1147 852h1v2h-1zM1173 852h1v1h-1zM1178 852h3v1h-3zM1188 852h4v1h-4zM93 853h2v1h-2zM120 853h1v1h-1zM133 853h1v1h-1zM164 853h1v1h-1zM220 853h1v1h-1zM227 853h3v1h-3zM285 853h1v1h-1zM356 853h1v1h-1zM400 853h1v2h-1zM771 853h1v1h-1zM781 853h1v1h-1zM1170 853h3v1h-3zM1181 853h7v1h-7zM1192 853h2v1h-2zM7 854h1v2h-1zM95 854h25v1h-25zM134 854h1v1h-1zM163 854h1v2h-1zM221 854h2v1h-2zM225 854h2v1h-2zM286 854h1v1h-1zM292 854h8v1h-8zM355 854h1v2h-1zM770 854h1v1h-1zM782 854h1v1h-1zM951 854h1v1h-1zM1139 854h1v1h-1zM1148 854h1v1h-1zM1169 854h1v1h-1zM1194 854h2v1h-2zM1227 854h1v3h-1zM8 855h2v1h-2zM135 855h1v1h-1zM223 855h2v1h-2zM287 855h5v1h-5zM300 855h4v1h-4zM401 855h1v1h-1zM769 855h1v2h-1zM783 855h1v1h-1zM949 855h2v1h-2zM952 855h1v1h-1zM1138 855h1v2h-1zM1149 855h1v1h-1zM1167 855h2v1h-2zM1196 855h1v1h-1zM10 856h3v1h-3zM15 856h1v2h-1zM136 856h1v1h-1zM162 856h1v1h-1zM304 856h1v1h-1zM354 856h1v1h-1zM402 856h1v2h-1zM784 856h1v2h-1zM948 856h1v1h-1zM953 856h1v2h-1zM1150 856h1v1h-1zM1166 856h1v1h-1zM1197 856h2v1h-2zM13 857h2v1h-2zM137 857h1v1h-1zM161 857h1v1h-1zM305 857h1v1h-1zM353 857h1v2h-1zM768 857h1v1h-1zM946 857h2v1h-2zM1137 857h1v1h-1zM1151 857h1v1h-1zM1165 857h1v1h-1zM1199 857h5v1h-5zM1226 857h1v3h-1zM138 858h1v1h-1zM160 858h1v2h-1zM306 858h1v1h-1zM403 858h1v1h-1zM767 858h1v1h-1zM785 858h1v2h-1zM944 858h2v1h-2zM954 858h1v1h-1zM1136 858h1v2h-1zM1152 858h1v1h-1zM1164 858h1v1h-1zM1204 858h4v1h-4zM139 859h2v1h-2zM307 859h2v1h-2zM352 859h1v2h-1zM404 859h1v2h-1zM766 859h1v1h-1zM943 859h1v1h-1zM955 859h1v1h-1zM1153 859h1v1h-1zM1163 859h1v2h-1zM1208 859h1v1h-1zM141 860h1v1h-1zM158 860h2v1h-2zM309 860h1v1h-1zM764 860h2v1h-2zM786 860h1v1h-1zM855 860h1v1h-1zM942 860h1v1h-1zM956 860h1v1h-1zM1109 860h5v1h-5zM1133 860h3v1h-3zM1154 860h1v1h-1zM1209 860h1v1h-1zM1225 860h1v4h-1zM142 861h1v1h-1zM157 861h1v1h-1zM310 861h1v1h-1zM351 861h1v1h-1zM405 861h1v1h-1zM751 861h2v1h-2zM763 861h1v1h-1zM787 861h1v2h-1zM854 861h1v1h-1zM856 861h2v1h-2zM941 861h1v2h-1zM957 861h1v2h-1zM1106 861h3v1h-3zM1114 861h3v1h-3zM1130 861h3v1h-3zM1155 861h2v1h-2zM1162 861h1v1h-1zM1210 861h1v1h-1zM143 862h3v1h-3zM154 862h3v1h-3zM311 862h9v1h-9zM349 862h2v1h-2zM406 862h1v2h-1zM751 862h1v1h-1zM753 862h2v1h-2zM761 862h2v1h-2zM830 862h3v1h-3zM853 862h1v2h-1zM858 862h2v1h-2zM1103 862h3v1h-3zM1117 862h13v1h-13zM1157 862h1v1h-1zM1161 862h1v1h-1zM1211 862h1v1h-1zM146 863h3v1h-3zM153 863h1v1h-1zM320 863h1v1h-1zM348 863h1v1h-1zM750 863h1v1h-1zM755 863h3v1h-3zM760 863h1v1h-1zM788 863h1v1h-1zM829 863h1v1h-1zM833 863h1v1h-1zM860 863h1v1h-1zM940 863h1v1h-1zM958 863h1v1h-1zM1102 863h1v1h-1zM1158 863h1v1h-1zM1160 863h1v1h-1zM1212 863h1v1h-1zM149 864h4v1h-4zM321 864h1v2h-1zM335 864h3v1h-3zM346 864h2v1h-2zM407 864h1v1h-1zM749 864h1v3h-1zM758 864h2v1h-2zM789 864h1v2h-1zM815 864h3v1h-3zM826 864h3v1h-3zM834 864h3v1h-3zM852 864h1v1h-1zM861 864h2v1h-2zM939 864h1v1h-1zM959 864h2v1h-2zM1101 864h1v1h-1zM1159 864h1v1h-1zM1213 864h1v1h-1zM1224 864h1v3h-1zM334 865h1v1h-1zM338 865h3v1h-3zM344 865h2v1h-2zM408 865h1v1h-1zM813 865h2v1h-2zM818 865h3v1h-3zM825 865h1v1h-1zM837 865h1v1h-1zM851 865h1v1h-1zM863 865h9v1h-9zM918 865h3v1h-3zM938 865h1v1h-1zM961 865h2v1h-2zM1100 865h1v1h-1zM1214 865h1v1h-1zM322 866h1v1h-1zM333 866h1v1h-1zM341 866h3v1h-3zM409 866h1v1h-1zM719 866h11v1h-11zM790 866h1v2h-1zM812 866h1v1h-1zM821 866h4v1h-4zM838 866h3v1h-3zM850 866h1v1h-1zM872 866h1v1h-1zM917 866h1v1h-1zM921 866h1v1h-1zM937 866h1v2h-1zM963 866h3v1h-3zM1099 866h1v2h-1zM1215 866h3v1h-3zM323 867h1v1h-1zM332 867h1v1h-1zM410 867h1v1h-1zM647 867h2v1h-2zM718 867h1v1h-1zM730 867h3v1h-3zM748 867h1v1h-1zM810 867h2v1h-2zM841 867h1v1h-1zM849 867h1v2h-1zM873 867h2v1h-2zM914 867h3v1h-3zM922 867h3v1h-3zM966 867h2v1h-2zM1218 867h3v1h-3zM1223 867h1v2h-1zM324 868h1v1h-1zM331 868h1v1h-1zM411 868h1v1h-1zM646 868h1v1h-1zM649 868h1v1h-1zM717 868h1v1h-1zM733 868h3v1h-3zM747 868h1v3h-1zM791 868h2v1h-2zM808 868h2v1h-2zM842 868h3v1h-3zM875 868h1v1h-1zM913 868h1v1h-1zM925 868h1v1h-1zM936 868h1v1h-1zM968 868h1v2h-1zM1098 868h1v1h-1zM1221 868h2v1h-2zM325 869h1v2h-1zM330 869h1v1h-1zM412 869h1v1h-1zM645 869h1v2h-1zM650 869h3v1h-3zM716 869h1v1h-1zM736 869h1v1h-1zM793 869h2v1h-2zM805 869h3v1h-3zM845 869h1v1h-1zM848 869h1v1h-1zM876 869h2v1h-2zM903 869h10v1h-10zM926 869h10v1h-10zM1097 869h1v1h-1zM329 870h1v1h-1zM413 870h1v1h-1zM653 870h1v1h-1zM715 870h1v2h-1zM737 870h1v1h-1zM795 870h3v1h-3zM802 870h3v1h-3zM846 870h2v1h-2zM878 870h1v1h-1zM902 870h1v2h-1zM969 870h1v2h-1zM1096 870h1v1h-1zM326 871h1v1h-1zM328 871h1v1h-1zM414 871h1v1h-1zM644 871h1v1h-1zM654 871h3v1h-3zM703 871h2v1h-2zM738 871h1v1h-1zM746 871h1v1h-1zM798 871h4v1h-4zM879 871h1v1h-1zM1095 871h1v1h-1zM327 872h1v1h-1zM415 872h3v1h-3zM429 872h4v1h-4zM630 872h2v1h-2zM643 872h1v1h-1zM657 872h1v1h-1zM702 872h1v1h-1zM705 872h1v1h-1zM714 872h1v1h-1zM739 872h1v2h-1zM745 872h1v3h-1zM880 872h1v1h-1zM901 872h1v1h-1zM970 872h1v2h-1zM1094 872h1v1h-1zM418 873h3v1h-3zM426 873h3v1h-3zM433 873h1v1h-1zM629 873h1v1h-1zM632 873h2v1h-2zM642 873h1v1h-1zM658 873h3v1h-3zM701 873h1v1h-1zM706 873h3v1h-3zM713 873h1v1h-1zM881 873h1v1h-1zM900 873h1v1h-1zM1079 873h2v1h-2zM1092 873h2v1h-2zM421 874h5v1h-5zM434 874h3v1h-3zM626 874h3v1h-3zM634 874h2v1h-2zM641 874h1v2h-1zM661 874h1v1h-1zM699 874h2v1h-2zM709 874h1v1h-1zM712 874h1v1h-1zM740 874h1v1h-1zM882 874h1v1h-1zM899 874h1v2h-1zM971 874h1v2h-1zM1079 874h1v1h-1zM1081 874h1v1h-1zM1091 874h1v1h-1zM437 875h1v1h-1zM625 875h1v1h-1zM636 875h1v1h-1zM662 875h2v1h-2zM698 875h1v1h-1zM710 875h2v1h-2zM741 875h1v1h-1zM744 875h1v1h-1zM883 875h1v1h-1zM1078 875h1v1h-1zM1082 875h3v1h-3zM1089 875h2v1h-2zM438 876h2v1h-2zM622 876h3v1h-3zM637 876h2v1h-2zM640 876h1v1h-1zM664 876h1v1h-1zM697 876h1v1h-1zM742 876h2v1h-2zM884 876h1v1h-1zM898 876h1v1h-1zM972 876h1v2h-1zM1077 876h1v3h-1zM1085 876h1v1h-1zM1088 876h1v1h-1zM440 877h1v1h-1zM619 877h3v1h-3zM639 877h1v1h-1zM665 877h2v1h-2zM696 877h1v1h-1zM743 877h1v1h-1zM885 877h1v1h-1zM897 877h1v1h-1zM1086 877h2v1h-2zM441 878h1v1h-1zM617 878h2v1h-2zM667 878h1v1h-1zM695 878h1v1h-1zM886 878h1v1h-1zM896 878h1v2h-1zM973 878h1v2h-1zM442 879h1v1h-1zM615 879h2v1h-2zM668 879h2v1h-2zM677 879h3v1h-3zM694 879h1v1h-1zM887 879h5v1h-5zM1076 879h1v1h-1zM443 880h2v1h-2zM613 880h2v1h-2zM670 880h1v1h-1zM674 880h3v1h-3zM680 880h2v1h-2zM692 880h2v1h-2zM892 880h4v1h-4zM974 880h1v2h-1zM1075 880h1v3h-1zM445 881h1v1h-1zM612 881h1v1h-1zM671 881h3v1h-3zM682 881h2v1h-2zM691 881h1v1h-1zM446 882h1v1h-1zM452 882h4v1h-4zM503 882h1v1h-1zM610 882h2v1h-2zM684 882h1v1h-1zM689 882h2v1h-2zM975 882h1v1h-1zM447 883h5v1h-5zM456 883h1v1h-1zM502 883h1v1h-1zM504 883h1v1h-1zM599 883h5v1h-5zM608 883h2v1h-2zM685 883h2v1h-2zM688 883h1v1h-1zM976 883h1v1h-1zM1074 883h1v1h-1zM457 884h2v1h-2zM501 884h1v1h-1zM505 884h2v1h-2zM534 884h3v1h-3zM598 884h1v2h-1zM604 884h4v1h-4zM687 884h1v1h-1zM977 884h1v1h-1zM991 884h1v1h-1zM1073 884h1v3h-1zM459 885h1v1h-1zM500 885h1v1h-1zM507 885h1v1h-1zM533 885h1v1h-1zM537 885h1v1h-1zM978 885h1v1h-1zM990 885h1v1h-1zM992 885h1v2h-1zM460 886h2v1h-2zM499 886h1v1h-1zM508 886h2v1h-2zM530 886h3v1h-3zM538 886h3v1h-3zM597 886h1v2h-1zM979 886h1v1h-1zM988 886h2v1h-2zM1031 886h2v1h-2zM462 887h1v1h-1zM498 887h1v1h-1zM510 887h1v1h-1zM529 887h1v1h-1zM541 887h1v1h-1zM980 887h1v1h-1zM987 887h1v1h-1zM993 887h1v1h-1zM1031 887h1v1h-1zM1033 887h2v1h-2zM1072 887h1v1h-1zM463 888h10v1h-10zM497 888h1v1h-1zM511 888h1v1h-1zM527 888h2v1h-2zM542 888h6v1h-6zM596 888h1v2h-1zM981 888h1v1h-1zM985 888h2v1h-2zM994 888h1v1h-1zM1030 888h1v1h-1zM1035 888h3v1h-3zM1071 888h1v2h-1zM473 889h1v1h-1zM496 889h1v1h-1zM512 889h1v1h-1zM526 889h1v1h-1zM548 889h8v1h-8zM982 889h1v1h-1zM984 889h1v1h-1zM995 889h1v2h-1zM1029 889h1v3h-1zM1038 889h6v1h-6zM474 890h3v1h-3zM485 890h11v1h-11zM513 890h2v1h-2zM524 890h2v1h-2zM556 890h5v1h-5zM595 890h1v2h-1zM983 890h1v1h-1zM1044 890h4v1h-4zM1070 890h1v1h-1zM477 891h1v1h-1zM482 891h3v1h-3zM515 891h1v1h-1zM523 891h1v1h-1zM561 891h1v1h-1zM996 891h1v1h-1zM1048 891h1v1h-1zM1069 891h1v1h-1zM478 892h4v1h-4zM516 892h2v1h-2zM521 892h2v1h-2zM562 892h3v1h-3zM594 892h1v2h-1zM997 892h1v1h-1zM1028 892h1v1h-1zM1049 892h2v1h-2zM1068 892h1v1h-1zM518 893h1v1h-1zM520 893h1v1h-1zM565 893h1v1h-1zM998 893h1v2h-1zM1027 893h1v3h-1zM1051 893h1v1h-1zM1067 893h1v2h-1zM519 894h1v1h-1zM566 894h3v1h-3zM593 894h1v2h-1zM1052 894h2v1h-2zM569 895h1v1h-1zM999 895h2v1h-2zM1054 895h1v1h-1zM1066 895h1v1h-1zM570 896h3v1h-3zM592 896h1v2h-1zM1001 896h2v1h-2zM1026 896h1v1h-1zM1055 896h3v1h-3zM1065 896h1v1h-1zM573 897h1v1h-1zM1003 897h3v1h-3zM1025 897h1v3h-1zM1058 897h3v1h-3zM1064 897h1v1h-1zM574 898h4v1h-4zM589 898h3v1h-3zM1006 898h11v1h-11zM1061 898h3v1h-3zM578 899h3v1h-3zM586 899h3v1h-3zM1017 899h1v1h-1zM581 900h5v1h-5zM1018 900h3v1h-3zM1024 900h1v1h-1zM1021 901h1v1h-1zM1023 901h1v2h-1zM1022 902h1v1h-1z"/>
<rect x="1628" y="359" width="2" height="1" fill="#000"/>
<g text-rendering="geometricPrecision">
<text x="1633.5" y="35.7">149.880</text>
<text x="1633.5" y="68.7">148.360</text>
<text x="1633.5" y="101.7">146.880</text>
<text x="1633.5" y="134.7">145.400</text>
<text x="1633.5" y="167.7">143.920</text>
<text x="1633.5" y="200.7">142.440</text>
<text x="1633.5" y="233.7">140.960</text>
<text x="1633.5" y="266.7">139.440</text>
<text x="1633.5" y="299.7">137.960</text>
<text x="1633.5" y="332.7">136.480</text>
<text x="1633.5" y="365.7">135.000</text>
<text x="1633.5" y="398.7">133.520</text>
<text x="1633.5" y="431.7">132.000</text>
<text x="1633.5" y="464.7">130.520</text>
<text x="1633.5" y="497.7">129.040</text>
<text x="1633.5" y="530.7">127.560</text>
<text x="1633.5" y="563.7">126.080</text>
<text x="1631" y="575.5">1.4795</text>
<text x="1631" y="647.3">0.00</text>
<text x="1631" y="762.9">-2.3144</text>
<text x="1631" y="778.9">100</text>
<text x="1631" y="804.6">80</text>
<text x="1631" y="851.7">50</text>
<text x="1631" y="907.6">15</text>
<text x="1631" y="924.4">0</text>
<text x="-2" y="940.9" style="font-size:9.5px">7 Mar 2019</text>
<text x="62" y="940.9" style="font-size:9.5px">17 Mar 2019</text>
<text x="126" y="940.9" style="font-size:9.5px">26 Mar 2019</text>
<text x="190" y="940.9" style="font-size:9.5px">4 Apr 2019</text>
<text x="254" y="940.9" style="font-size:9.5px">14 Apr 2019</text>
<text x="318" y="940.9" style="font-size:9.5px">24 Apr 2019</text>
<text x="382" y="940.9" style="font-size:9.5px">3 May 2019</text>
<text x="446" y="940.9" style="font-size:9.5px">13 May 2019</text>
<text x="510" y="940.9" style="font-size:9.5px">22 May 2019</text>
<text x="574" y="940.9" style="font-size:9.5px">31 May 2019</text>
<text x="638" y="940.9" style="font-size:9.5px">10 Jun 2019</text>
<text x="702" y="940.9" style="font-size:9.5px">19 Jun 2019</text>
<text x="766" y="940.9" style="font-size:9.5px">28 Jun 2019</text>
<text x="830" y="940.9" style="font-size:9.5px">8 Jul 2019</text>
<text x="894" y="940.9" style="font-size:9.5px">17 Jul 2019</text>
<text x="958" y="940.9" style="font-size:9.5px">26 Jul 2019</text>
<text x="1022" y="940.9" style="font-size:9.5px">5 Aug 2019</text>
<text x="1086" y="940.9" style="font-size:9.5px">14 Aug 2019</text>
<text x="1150" y="940.9" style="font-size:9.5px">23 Aug 2019</text>
<text x="1214" y="940.9" style="font-size:9.5px">2 Sep 2019</text>
<text x="1278" y="940.9" style="font-size:9.5px">11 Sep 2019</text>
<rect x="1629" y="328" width="41" height="11" fill="#FF0000"/>
<text class="w" x="1633.5" y="336.9">136.261</text>
<rect x="1629" y="342" width="41" height="11" fill="#FF4500"/>
<text class="w" x="1633.5" y="350.9">135.631</text>
<rect x="1629" y="354" width="41" height="10" fill="#000000"/>
<text class="w" x="1633.5" y="362.4">135.136</text>
<rect x="1629" y="364" width="41" height="11" fill="#32CD32"/>
<text class="w" x="1633.5" y="372.9">134.641</text>
<rect x="1629" y="376" width="41" height="11" fill="#0000FF"/>
<text class="w" x="1633.5" y="384.9">134.102</text>
<rect x="1629" y="389" width="41" height="11" fill="#0000FF"/>
<text class="w" x="1633.5" y="397.9">133.501</text>
</g>
<rect x="1424" y="370" width="8" height="1" fill="#FF0000"/>
<rect x="1431.5" y="368.5" width="2" height="3" fill="#fff" stroke="#FF0000" stroke-width="1"/>
<rect x="1434.5" y="354.5" width="99" height="32" fill="#fff" stroke="#FF0000" stroke-width="1"/>
<text x="14" y="39.8" textLength="63" lengthAdjust="spacingAndGlyphs">GBPJPY-,Daily</text>
<text x="83.2" y="39.8" textLength="32.4" lengthAdjust="spacingAndGlyphs">134.350</text>
<text x="119.27" y="39.8" textLength="32.4" lengthAdjust="spacingAndGlyphs">135.402</text>
<text x="155.34" y="39.8" textLength="32.4" lengthAdjust="spacingAndGlyphs">133.973</text>
<text x="191.41" y="39.8" textLength="32.4" lengthAdjust="spacingAndGlyphs">135.136</text>
<path d="M2 39.5 L5.5 35 L9 39.5 Z" fill="#000"/>
<text x="3.4" y="577.4" textLength="127.3" lengthAdjust="spacingAndGlyphs">MACD(12,26,9) 1.2554 0.7238</text>
<text x="3.2" y="780.6" textLength="67.6" lengthAdjust="spacingAndGlyphs">RSI(14) 69.7975</text>
</svg>
<div id="oc">
<div style="position:absolute;left:-2px;top:0;width:222px;height:66px;background:#fff;"></div>
<div class="red" style="left:0;top:0;width:52px;height:25px;background:linear-gradient(to bottom,#F54A4A,#E23030);"></div>
<div class="red" style="left:168px;top:0;width:51px;height:25px;background:linear-gradient(to bottom,#F54A4A,#E23030);"></div>
<div class="red" style="left:0;top:24px;width:109px;height:40px;background:linear-gradient(to bottom,#E03030 0%,#C81818 50%,#AE0000 100%);"></div>
<div class="red" style="left:111px;top:24px;width:108px;height:40px;background:linear-gradient(to bottom,#E03030 0%,#C81818 50%,#AE0000 100%);"></div>
<div style="position:absolute;left:4px;top:23px;width:44px;height:1px;background:#B01818;"></div><div style="position:absolute;left:4px;top:24px;width:44px;height:1px;background:#F88080;"></div>
<div style="position:absolute;left:172px;top:23px;width:44px;height:1px;background:#B01818;"></div><div style="position:absolute;left:172px;top:24px;width:44px;height:1px;background:#F88080;"></div>
<div class="ocbtn" style="left:0;top:5px;width:52px;font-size:12px;"><span style="display:inline-block;transform:scaleX(0.88);">SELL</span></div>
<div class="ocbtn" style="left:168px;top:5px;width:51px;font-size:12px;"><span style="display:inline-block;transform:scaleX(0.95);">BUY</span></div>
<div style="position:absolute;left:54px;top:0;width:111px;height:22px;background:#fff;border:1px solid #ABABAB;box-sizing:border-box;"></div>
<div style="position:absolute;left:55px;top:1px;width:20px;height:20px;background:#E8E8E8;border-right:1px solid #ABABAB;"></div>
<div style="position:absolute;left:144px;top:1px;width:20px;height:20px;background:#E8E8E8;border-left:1px solid #ABABAB;box-sizing:border-box;"></div>
<div style="position:absolute;left:62px;top:9px;width:0;height:0;border-left:3px solid transparent;border-right:3px solid transparent;border-top:3px solid #000;"></div>
<div style="position:absolute;left:151px;top:8px;width:0;height:0;border-left:3px solid transparent;border-right:3px solid transparent;border-bottom:3px solid #000;"></div>
<div class="abs" style="left:80px;top:4px;width:60px;text-align:right;font-size:13px;line-height:14px;color:#000;">1.00</div>
<div class="abs" style="left:24px;top:45px;font-size:12px;font-weight:bold;color:#fff;line-height:12px;">135</div>
<div class="abs" style="left:134px;top:45px;font-size:12px;font-weight:bold;color:#fff;line-height:12px;">135</div>
<div class="abs" style="left:47px;top:24px;font-size:35px;color:#fff;line-height:36px;letter-spacing:-3.5px;">13</div>
<div class="abs" style="left:158px;top:24px;font-size:35px;color:#fff;line-height:36px;letter-spacing:-3.5px;">18</div>
<div class="abs" style="left:87px;top:28px;font-size:12px;font-weight:bold;color:#fff;line-height:12px;">6</div>
<div class="abs" style="left:198px;top:28px;font-size:12px;font-weight:bold;color:#fff;line-height:12px;">0</div>
</div>
<div id="big"><span>134.641</span></div>
<div id="cn">多空转折点</div>
<div style="position:absolute;left:1673px;top:24px;width:1px;height:927px;background:#E3E3E3;"></div>
<div style="position:absolute;left:0;top:949px;width:1674px;height:1px;background:#E3E3E3;"></div>
</body></html>
